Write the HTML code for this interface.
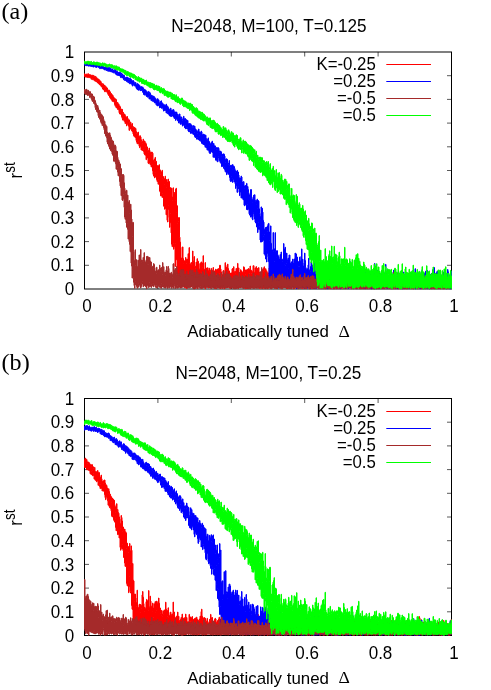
<!DOCTYPE html>
<html><head><meta charset="utf-8"><title>r_st vs Delta</title>
<style>
html,body{margin:0;padding:0;background:#fff}
svg{display:block}
text{font-family:"Liberation Sans",sans-serif;font-size:17.5px;fill:#000}
</style></head><body>
<svg style="will-change:transform" width="491" height="690" viewBox="0 0 491 690">
<rect width="491" height="690" fill="#fff"/>
<path d="M84.50 265.30h4.5M451.50 265.30h-4.5M84.50 241.60h4.5M451.50 241.60h-4.5M84.50 217.90h4.5M451.50 217.90h-4.5M84.50 194.20h4.5M451.50 194.20h-4.5M84.50 170.50h4.5M451.50 170.50h-4.5M84.50 146.80h4.5M451.50 146.80h-4.5M84.50 123.10h4.5M451.50 123.10h-4.5M84.50 99.40h4.5M451.50 99.40h-4.5M84.50 75.70h4.5M451.50 75.70h-4.5M157.90 289.00v-4.5M157.90 52.00v4.5M231.30 289.00v-4.5M231.30 52.00v4.5M304.70 289.00v-4.5M304.70 52.00v4.5M378.10 289.00v-4.5M378.10 52.00v4.5" fill="none" stroke="#000" stroke-width="0.65"/>
<rect x="84.50" y="52.00" width="367.00" height="237.00" fill="none" stroke="#000" stroke-width="1"/>
<path d="M84.5 73.8H85V74.4H85.5V74.7H86V74.4H86.5V74H87V74.2H87.5V74.2H88V73.7H88.5V74.6H89V74.5H89.5V75H90V75.1H90.5V74.8H91V75.3H91.5V75.8H92V75.2H92.5V75.4H93V76.4H93.5V75.4H94V76.6H94.5V76.4H95V77.4H95.5V76.4H96V77.7H96.5V77.6H97V78.9H97.5V78.7H98V79.7H98.5V79H99V80.1H99.5V80.9H100V80.9H100.5V81.2H101V82.7H101.5V83.3H102V83.6H102.5V84.4H103V83.9H103.5V85.1H104V86.3H104.5V85.1H105V87.5H105.5V86.5H106V87.1H106.5V87.9H107V88H107.5V89.8H108V90.1H108.5V90.2H109V90.2H109.5V91.3H110V92H110.5V93.2H111V93.6H111.5V94.1H112V95.3H112.5V95.1H113V96.8H113.5V97H114V98.5H114.5V98.3H115V100.4H115.5V98.9H116V99.7H116.5V101.9H117V103.3H117.5V102.5H118V104.8H118.5V103.9H119V107.7H119.5V105.8H120V106.9H120.5V108.7H121V109.2H121.5V110.6H122V109.4H122.5V113.4H123V112.4H123.5V113.6H124V116.1H124.5V114.1H125V115.6H125.5V116.7H126V117.2H126.5V117H127V116.5H127.5V118.1H128V119.6H128.5V120H129V119.9H129.5V122.2H130V122H130.5V122.3H131V124.7H131.5V125.4H132V123.5H132.5V127.2H133V126.7H133.5V127.5H134V128H134.5V127.4H135V129H135.5V128.5H136V131.6H136.5V133.4H137V133.3H137.5V132.8H138V132.1H138.5V135.7H139V136.2H139.5V136.2H140V135.8H140.5V136.9H141V139.7H141.5V141.3H142V141.3H142.5V143.5H143V139.2H143.5V140.6H144V142.8H144.5V141H145V146.3H145.5V142.8H146V144.2H146.5V147H147V146.9H147.5V150.3H148V150.3H148.5V152.6H149V148.1H149.5V150.4H150V152.5H150.5V152.3H151V154.4H151.5V152H152V152.3H152.5V153.2H153V159.9H153.5V160.7H154V161.2H154.5V159H155V157.4H155.5V161.5H156V161.3H156.5V165.1H157V165.6H157.5V168.8H158V165.8H158.5V168H159V164.7H159.5V169.6H160V170.1H160.5V174.7H161V171.8H161.5V172.6H162V170.3H162.5V178.5H163V176.6H163.5V179.8H164V178.7H164.5V184.6H165V176.2H165.5V179.9H166V187.5H166.5V179.5H167V182H167.5V187H168V179H168.5V181.4H169V181.5H169.5V189.3H170V190.6H170.5V187.6H171V195.9H171.5V188.3H172V200.3H172.5V196.9H173V187.8H173.5V193.7H174V193.7H174.5V192.5H175V200.5H175.5V189.2H176V188.3H176.5V212.6H177V205.8H177.5V223.7H178V221.7H178.5V217.6H179V217.6H179.5V237.2H180V242.1H180.5V247.2H181V257.9H181.5V263H182V259.7H182.5V246.9H183V258.6H183.5V263.9H184V260.8H184.5V267H185V260.5H185.5V257.5H186V259.4H186.5V263.2H187V259.1H187.5V261.1H188V253.7H188.5V260.9H189V247.6H189.5V263.2H190V264.7H190.5V263.9H191V262.4H191.5V264.4H192V269.8H192.5V251H193V260.9H193.5V262.8H194V256.6H194.5V266.6H195V266.2H195.5V268.5H196V262.1H196.5V264.8H197V258.7H197.5V261.2H198V261.2H198.5V263.6H199V269.2H199.5V269.1H200V263.3H200.5V263.2H201V261.9H201.5V272.8H202V267.8H202.5V262.8H203V255.7H203.5V276.1H204V269.3H204.5V269.3H205V262.6H205.5V270.2H206V271.1H206.5V268H207V271H207.5V267.7H208V270.4H208.5V270.9H209V268.2H209.5V271.9H210V270.4H210.5V271.7H211V268.4H211.5V274.2H212V270.4H212.5V270.4H213V267.5H213.5V270.5H214V270.9H214.5V275.5H215V273H215.5V269.2H216V274.6H216.5V270.1H217V269.2H217.5V273.4H218V268.7H218.5V268.7H219V273.7H219.5V265.3H220V265.3H220.5V268.9H221V271.9H221.5V275.7H222V275.1H222.5V274.5H223V270.6H223.5V270.4H224V273.4H224.5V273.5H225V262.7H225.5V265.3H226V274.5H226.5V267.4H227V271.7H227.5V264.1H228V268.5H228.5V270.5H229V271H229.5V274.1H230V273H230.5V276.5H231V273H231.5V273H232V268.9H232.5V268.5H233V271.2H233.5V266.7H234V271.6H234.5V272.8H235V271.4H235.5V273.6H236V268.4H236.5V273H237V273H237.5V263.4H238V276.9H238.5V267.9H239V273.5H239.5V272.8H240V272.8H240.5V269.7H241V276.9H241.5V270.9H242V275.4H242.5V272.4H243V276.7H243.5V266.8H244V267.4H244.5V271.6H245V274.5H245.5V269.9H246V274.1H246.5V270H247V269.3H247.5V273.1H248V274.3H248.5V268.5H249V269.4H249.5V273.2H250V266H250.5V269.7H251V273.4H251.5V270.6H252V272.8H252.5V271.7H253V265.7H253.5V265.7H254V276H254.5V272.2H255V267.9H255.5V275.2H256V266.6H256.5V269.2H257V268.8H257.5V268.4H258V269.5H258.5V267.6H259V273.2H259.5V272.3H260V273.4H260.5V275.5H261V275.5H261.5V269.2H262V269.5H262.5V273.6H263V271.6H263.5V268.2H264V266.8H264.5V270.4H265V273.5H265.5V268.7H266V271.2H266.5V270.8H267V273.6H267.5V272.7H268V272.9H268.5V274.4H269V268H269.5V275.4H270V269.5H270.5V269.5H271V270.7H271.5V266.9H272V271.3H272.5V273.7H273V270.2H273.5V270.8H274V273H274.5V273.2H275V275.5H275.5V268.7H276V268.7H276.5V273.8H277V272.9H277.5V270.6H278V266.1H278.5V268.4H279V272.5H279.5V271H280V276.7H280.5V271.9H281V274.4H281.5V270.9H282V273.7H282.5V273.2H283V273.8H283.5V273.8H284V277.7H284.5V267.6H285V275.5H285.5V273.7H286V274.4H286.5V272.4H287V275.1H287.5V276.2H288V276.7H288.5V274.1H289V277.7H289.5V271.3H290V275.2H290.5V276.2H291V276H291.5V274H292V273.6H292.5V271.7H293V271.7H293.5V274.3H294V276.1H294.5V280H295V272.8H295.5V277.4H296V274.9H296.5V276.8H297V276.1H297.5V276.5H298V271.3H298.5V276.1H299V272.8H299.5V276.7H300V274.7H300.5V275.6H301V275.1H301.5V271.5H302V276.8H302.5V269.3H303V280.1H303.5V276.3H304V277.9H304.5V275.9H305V274.9H305.5V276.9H306V275.8H306.5V274.7H307V277.7H307.5V277H308V276.7H308.5V278.9H309V273.1H309.5V275.8H310V277.8H310.5V274.7H311V274.2H311.5V276.8H312V277.7H312.5V276H313V275.8H313.5V276.7H314V275.4H314.5V273.1H315V273.4H315.5V279.7H316V278.5H316.5V276.7H317V276.5H317.5V275.1H318V275.9H318.5V277.5H319V278.4H319.5V275.2H320V278.8H320.5V280.3H321V277.1H321.5V276.9H322V273.1H322.5V272.8H323V276.1H323.5V278.5H324V278.3H324.5V276.9H325V276.4H325.5V278.4H326V275.8H326.5V279.7H327V278.5H327.5V278.6H328V274.1H328.5V279.1H329V279.4H329.5V279.6H330V273.2H330.5V276.6H331V279.9H331.5V276.3H332V275.7H332.5V275.4H333V276.8H333.5V277.3H334V277.8H334.5V278.3H335V274.3H335.5V279.2H336V276.9H336.5V276.4H337V278.9H337.5V278.4H338V277.5H338.5V276.7H339V273.3H339.5V276.7H340V273.7H340.5V273.7H341V276H341.5V277.3H342V280H342.5V278.4H343V276.4H343.5V276.5H344V277H344.5V279H345V274.3H345.5V279H346V280.1H346.5V279.4H347V277.4H347.5V271.2H348V278.7H348.5V278.9H349V279.7H349.5V278.8H350V277.4H350.5V277.7H351V277.6H351.5V278.8H352V279.3H352.5V277.2H353V278.7H353.5V279.2H354V272.8H354.5V278.5H355V278.1H355.5V280.7H356V276.6H356.5V280.9H357V274.6H357.5V273.7H358V278.6H358.5V277.6H359V275.9H359.5V276.4H360V276.4H360.5V278.5H361V279.9H361.5V277.3H362V277.8H362.5V279H363V278.9H363.5V278.5H364V278.8H364.5V276.9H365V279.5H365.5V278.1H366V276.3H366.5V276.8H367V277.5H367.5V278.2H368V277.5H368.5V277.5H369V276.6H369.5V273.1H370V275.4H370.5V277H371V279.4H371.5V279.8H372V279H372.5V277.1H373V276.8H373.5V280H374V273.9H374.5V280H375V279.3H375.5V279.4H376V280.2H376.5V275.2H377V280.8H377.5V277.8H378V280.6H378.5V281.4H379V282.1H379.5V274.8H380V279.9H380.5V278.6H381V276.9H381.5V277.6H382V280.5H382.5V278.6H383V279.8H383.5V274.5H384V279.4H384.5V274.4H385V277.1H385.5V281.5H386V278H386.5V277.9H387V277.1H387.5V278.6H388V279.9H388.5V276.8H389V279.5H389.5V278.5H390V279.7H390.5V275.8H391V274.5H391.5V274.6H392V276.3H392.5V279.6H393V279.2H393.5V278.3H394V275.6H394.5V277.2H395V279.9H395.5V279.5H396V276.3H396.5V274.1H397V281.8H397.5V273.3H398V277H398.5V278.6H399V276.9H399.5V275.5H400V276.6H400.5V274.1H401V278.6H401.5V276.7H402V276.5H402.5V275.4H403V278.4H403.5V278.8H404V279.1H404.5V278H405V280.4H405.5V275.4H406V277H406.5V277.9H407V275.2H407.5V275.8H408V277.4H408.5V275.6H409V277.5H409.5V275.8H410V281.2H410.5V277.9H411V277.9H411.5V276.6H412V280.9H412.5V277.8H413V279.9H413.5V278.6H414V278.5H414.5V277.8H415V281H415.5V278.7H416V277.3H416.5V277.3H417V282.2H417.5V278.7H418V274.3H418.5V276.8H419V277.5H419.5V278.1H420V277.4H420.5V278.8H421V276.4H421.5V278.1H422V277H422.5V278.5H423V277.6H423.5V278.1H424V278.8H424.5V278.6H425V281.8H425.5V278.6H426V279.7H426.5V275.5H427V277.5H427.5V281.4H428V279.5H428.5V279.3H429V277.6H429.5V278H430V277.8H430.5V280H431V280.1H431.5V277.6H432V277.9H432.5V280.3H433V279.6H433.5V279.8H434V276.2H434.5V276.2H435V279.7H435.5V281H436V279.2H436.5V279.1H437V278.4H437.5V276.6H438V278.2H438.5V281.7H439V279.8H439.5V278.9H440V278.9H440.5V278.3H441V275.3H441.5V279H442V281.1H442.5V275.1H443V274.9H443.5V280.2H444V275.7H444.5V279.1H445V280.2H445.5V277.4H446V274.4H446.5V278.3H447V278.2H447.5V277.1H448V277.3H448.5V278.7H449V277.1H449.5V277.1H450V275H450.5V278.8H451V279.6H451.5V288H451V286.8H450.5V287H450V288.1H449.5V287.3H449V287.6H448.5V287.1H448V287.5H447.5V286.7H447V285.9H446.5V287.4H446V288.4H445.5V287.5H445V287.9H444.5V288.1H444V288.2H443.5V288.7H443V286.7H442.5V287.6H442V288.2H441.5V287.1H441V287.7H440.5V288.7H440V288.2H439.5V288.4H439V288.4H438.5V287.8H438V288.3H437.5V287.5H437V288.4H436.5V287.3H436V288.1H435.5V288.4H435V288.2H434.5V287.7H434V286.9H433.5V287.2H433V288.2H432.5V287.5H432V285.9H431.5V286.3H431V288.5H430.5V288.3H430V288.7H429.5V286.8H429V288.2H428.5V288.1H428V288.1H427.5V287.1H427V288.1H426.5V285.4H426V288H425.5V287.6H425V287.7H424.5V287.8H424V287.8H423.5V287.4H423V287.9H422.5V287.9H422V288.6H421.5V287.8H421V288.5H420.5V287.3H420V288.1H419.5V287.3H419V287.4H418.5V286.5H418V287.2H417.5V287.4H417V287.5H416.5V287.2H416V287.2H415.5V287.9H415V287.7H414.5V287.7H414V287.8H413.5V288.8H413V287.5H412.5V287.6H412V288.3H411.5V288.3H411V287.7H410.5V286.7H410V287H409.5V287.8H409V288.2H408.5V287.8H408V288.3H407.5V286.2H407V286.7H406.5V287.7H406V286.8H405.5V288.3H405V287.6H404.5V288.7H404V287.7H403.5V288.1H403V288.1H402.5V288.5H402V288.5H401.5V287.8H401V286.5H400.5V288.4H400V287.5H399.5V288H399V286.6H398.5V286.9H398V288.5H397.5V287.8H397V288.1H396.5V287.6H396V288.5H395.5V288.5H395V286.5H394.5V285.8H394V287.8H393.5V288.3H393V286.7H392.5V288.6H392V288.6H391.5V288H391V287.8H390.5V288H390V287.9H389.5V288.2H389V286.9H388.5V287.6H388V287.5H387.5V287.9H387V287.7H386.5V288.1H386V287.9H385.5V287.3H385V286.8H384.5V288.6H384V287.5H383.5V287.7H383V288.3H382.5V288H382V287.2H381.5V287H381V287.5H380.5V288H380V287.7H379.5V288.1H379V287.6H378.5V287.7H378V287.1H377.5V288.3H377V288.8H376.5V288.4H376V288.1H375.5V287.3H375V288.7H374.5V287.6H374V288.6H373.5V287.9H373V288.3H372.5V287.1H372V287.6H371.5V286.5H371V287.9H370.5V288.4H370V287.4H369.5V288.2H369V287.7H368.5V287.5H368V286.1H367.5V287.5H367V288.2H366.5V287H366V288.1H365.5V288.8H365V288.6H364.5V287.4H364V288.5H363.5V287.1H363V287.8H362.5V288.5H362V287.2H361.5V288.6H361V287H360.5V287.4H360V288.5H359.5V287.7H359V286.7H358.5V287.2H358V287.2H357.5V286.2H357V288.6H356.5V286.6H356V287.9H355.5V288.1H355V288.1H354.5V287.3H354V287.3H353.5V286H353V286.4H352.5V287.1H352V286.8H351.5V286.8H351V287H350.5V287.7H350V287.5H349.5V287.4H349V287.8H348.5V288.4H348V287.8H347.5V286.9H347V286.8H346.5V288.5H346V286H345.5V287.4H345V287H344.5V288.3H344V288.2H343.5V288.1H343V287.1H342.5V287.9H342V287.6H341.5V287.7H341V288.2H340.5V287.5H340V288.2H339.5V287.7H339V287.9H338.5V287H338V287.4H337.5V288.3H337V285.9H336.5V288.7H336V287.1H335.5V287.3H335V287.6H334.5V288.8H334V287.9H333.5V286.7H333V287H332.5V286.8H332V287.5H331.5V287.2H331V287.5H330.5V288.6H330V286.5H329.5V287.1H329V288.5H328.5V288.3H328V286.9H327.5V288.1H327V288.4H326.5V288.6H326V288.6H325.5V287H325V286.5H324.5V288H324V286.8H323.5V288.2H323V286.6H322.5V288.3H322V287.8H321.5V288.1H321V288.6H320.5V286H320V287.4H319.5V288H319V287.8H318.5V287.3H318V287.6H317.5V287.7H317V287.8H316.5V287.4H316V288.6H315.5V287.3H315V288H314.5V286.1H314V285.9H313.5V288.4H313V288.4H312.5V287.9H312V288.3H311.5V288.3H311V288.4H310.5V287.9H310V288.7H309.5V288.6H309V288H308.5V286.5H308V287H307.5V287.9H307V288.5H306.5V286.6H306V287.5H305.5V285.7H305V288.6H304.5V288.5H304V287.6H303.5V287.9H303V288.3H302.5V288.4H302V287.6H301.5V286.3H301V285.8H300.5V287.4H300V285.1H299.5V287.7H299V288.5H298.5V287.3H298V285.9H297.5V288.2H297V285.1H296.5V288.1H296V286.9H295.5V288H295V286.7H294.5V286.5H294V288.8H293.5V285.9H293V286H292.5V287.1H292V286H291.5V288.5H291V286.4H290.5V287H290V287.9H289.5V285.9H289V286.4H288.5V285.7H288V288.6H287.5V288.1H287V288.5H286.5V286.2H286V287.2H285.5V287.6H285V287.2H284.5V287.6H284V286.8H283.5V285.5H283V287.5H282.5V286H282V287H281.5V285.8H281V287.1H280.5V287.4H280V287.6H279.5V287.3H279V285.6H278.5V285.6H278V287.5H277.5V288.3H277V284.6H276.5V288H276V287.2H275.5V288.2H275V287H274.5V287.8H274V287.4H273.5V287.4H273V285.7H272.5V287.4H272V287.5H271.5V286.9H271V287H270.5V286.9H270V285.2H269.5V287.6H269V288.2H268.5V285.8H268V287.5H267.5V287.2H267V284.4H266.5V287.3H266V288.6H265.5V288.6H265V287.6H264.5V286.7H264V288.1H263.5V288.1H263V287.3H262.5V286.4H262V287.1H261.5V286.7H261V287.5H260.5V288.3H260V288.3H259.5V288H259V287.3H258.5V284.9H258V285H257.5V285.9H257V287.6H256.5V286.4H256V287H255.5V287.2H255V286.9H254.5V287.2H254V287.6H253.5V287.3H253V286.4H252.5V287.8H252V285.4H251.5V287.9H251V287.5H250.5V287.4H250V286.4H249.5V286.6H249V285.6H248.5V286.9H248V288.4H247.5V285H247V285.8H246.5V287.8H246V288.7H245.5V285.7H245V286.3H244.5V284.8H244V286H243.5V286.7H243V287.1H242.5V286H242V286.4H241.5V286.7H241V285.9H240.5V287.7H240V285.9H239.5V287.5H239V286.4H238.5V288.1H238V286.3H237.5V287.4H237V288H236.5V287.9H236V287.4H235.5V286.1H235V286.3H234.5V285.7H234V286.8H233.5V287.8H233V286.2H232.5V285.6H232V288H231.5V285.9H231V288.2H230.5V285.5H230V287.8H229.5V287.9H229V287H228.5V285.7H228V287.6H227.5V287.4H227V287.5H226.5V285.5H226V287.2H225.5V286.2H225V286.8H224.5V288.7H224V286.4H223.5V287.1H223V288.1H222.5V285H222V287.8H221.5V284.4H221V288.4H220.5V284.8H220V288.1H219.5V286H219V287.8H218.5V287.5H218V287.2H217.5V286.9H217V286.7H216.5V284.4H216V286.9H215.5V288.4H215V287.2H214.5V288.1H214V287.6H213.5V285.1H213V285.5H212.5V287H212V286.9H211.5V286.9H211V286.9H210.5V287.8H210V287.5H209.5V287.5H209V287.6H208.5V288H208V286.5H207.5V285.4H207V285.4H206.5V284.9H206V285.4H205.5V288.7H205V285.3H204.5V287.6H204V286.9H203.5V286.8H203V285.9H202.5V286.8H202V288H201.5V284H201V285.5H200.5V285.6H200V283.8H199.5V285.3H199V284.5H198.5V284.8H198V288.5H197.5V284.7H197V284.3H196.5V284.7H196V288.2H195.5V287.9H195V288.3H194.5V287H194V285.2H193.5V284.7H193V282.9H192.5V285.5H192V284.7H191.5V286.8H191V285.2H190.5V284.3H190V287H189.5V286.1H189V285.2H188.5V284.6H188V284.7H187.5V287.7H187V288.4H186.5V284.9H186V287.7H185.5V287.7H185V287.7H184.5V287H184V283.7H183.5V284.3H183V283.6H182.5V286H182V283.9H181.5V285H181V287.7H180.5V285.1H180V285.1H179.5V286.2H179V282.5H178.5V274.4H178V273.6H177.5V281.1H177V259.7H176.5V259.7H176V243.5H175.5V266.5H175V246.8H174.5V246.1H174V249.2H173.5V243.3H173V236H172.5V246.7H172V244.2H171.5V232.9H171V222.8H170.5V213.6H170V227.3H169.5V217.5H169V205.4H168.5V209.6H168V222H167.5V220.3H167V210.8H166.5V214.8H166V203H165.5V208.5H165V209.2H164.5V206.2H164V206.2H163.5V195.1H163V193.8H162.5V197.5H162V194.9H161.5V195.9H161V195.9H160.5V192.2H160V191H159.5V179.9H159V179.5H158.5V184.3H158V181.3H157.5V181.5H157V179.6H156.5V175.9H156V176.9H155.5V172.2H155V177.9H154.5V172.7H154V176.1H153.5V174.4H153V170.8H152.5V164.4H152V166.9H151.5V166.8H151V162.2H150.5V164.6H150V163.2H149.5V160.9H149V163.6H148.5V163.2H148V158.1H147.5V156.9H147V154.9H146.5V159.7H146V154.7H145.5V155.2H145V154.7H144.5V153.9H144V151.6H143.5V149.3H143V150.6H142.5V150.2H142V150H141.5V149.9H141V146H140.5V146.3H140V147.7H139.5V146.2H139V143.9H138.5V141.7H138V143.7H137.5V143.7H137V142.1H136.5V140.5H136V137.3H135.5V137.6H135V135H134.5V136.5H134V135.7H133.5V134H133V131.9H132.5V131.2H132V130.8H131.5V129.5H131V128.5H130.5V129H130V127.5H129.5V130.4H129V126.3H128.5V124.9H128V124.2H127.5V123.5H127V125.9H126.5V123.2H126V123.3H125.5V123.6H125V120.6H124.5V121.3H124V119.2H123.5V120.1H123V120.1H122.5V118.3H122V116.7H121.5V114.9H121V114.2H120.5V112.2H120V113.9H119.5V112.7H119V109.8H118.5V109.3H118V109.4H117.5V108.3H117V107H116.5V107.8H116V105.6H115.5V106.2H115V104.5H114.5V102.4H114V100.9H113.5V101.4H113V100.9H112.5V101.3H112V99.8H111.5V99.6H111V98.5H110.5V98.2H110V97.2H109.5V95.8H109V95.4H108.5V94.8H108V93.4H107.5V92.6H107V91.7H106.5V91.2H106V90.4H105.5V91.7H105V91.7H104.5V89.7H104V90H103.5V89.1H103V89.1H102.5V87.6H102V86.1H101.5V86.6H101V85.5H100.5V83.4H100V84.8H99.5V84.2H99V83.7H98.5V83H98V83H97.5V81.3H97V82H96.5V80.5H96V81.2H95.5V81.2H95V80.8H94.5V80.3H94V79.8H93.5V79.7H93V79.7H92.5V78.5H92V79H91.5V79.2H91V77.9H90.5V77.4H90V77.2H89.5V77.7H89V77.6H88.5V77.1H88V77.2H87.5V77.4H87V76.8H86.5V77.1H86V77H85.5V77H85V76.5H84.5Z" fill="#ff0000" stroke="#ff0000" stroke-width="1" stroke-linejoin="miter" stroke-miterlimit="2"/>
<path d="M84.5 63.5H85V64.1H85.5V63.1H86V63.3H86.5V63.9H87V63.9H87.5V63.6H88V63.2H88.5V64.1H89V63.3H89.5V64H90V63.8H90.5V63.8H91V64.4H91.5V64H92V64.1H92.5V64.8H93V64H93.5V64.2H94V64.6H94.5V64.5H95V64.7H95.5V64.7H96V64.8H96.5V65.4H97V64.6H97.5V65H98V65.7H98.5V65.5H99V65.7H99.5V65.1H100V66.3H100.5V65.9H101V65.5H101.5V66.1H102V65.8H102.5V66.4H103V66.2H103.5V66.8H104V67H104.5V67.3H105V66.9H105.5V67.4H106V67.2H106.5V67.6H107V67.5H107.5V68H108V68.1H108.5V67.5H109V67.5H109.5V68.7H110V67.9H110.5V68.9H111V69H111.5V69.2H112V68.8H112.5V70.2H113V70.3H113.5V69.9H114V70.4H114.5V69.6H115V69.6H115.5V70H116V71.1H116.5V71.2H117V71.3H117.5V72.1H118V72.5H118.5V72.3H119V72.2H119.5V72.1H120V72.3H120.5V73.6H121V73H121.5V74.2H122V73.9H122.5V75.3H123V75H123.5V75.1H124V75.4H124.5V77.8H125V77.7H125.5V77.4H126V77H126.5V77.8H127V77.3H127.5V77.3H128V79.6H128.5V78.1H129V78.3H129.5V79.4H130V78.6H130.5V79H131V79.4H131.5V80.9H132V82H132.5V80.6H133V80.6H133.5V81.1H134V82.5H134.5V83.7H135V82.5H135.5V82.6H136V84.7H136.5V84.6H137V83.4H137.5V84.8H138V84.1H138.5V84.5H139V85.4H139.5V85.5H140V87H140.5V86.9H141V86.6H141.5V87H142V87.6H142.5V86.9H143V88.1H143.5V89.6H144V89.6H144.5V89.2H145V91.1H145.5V90H146V91.3H146.5V91.5H147V91.9H147.5V92.5H148V92.7H148.5V91.4H149V93.4H149.5V92.4H150V93.2H150.5V95.3H151V95.5H151.5V95H152V95.8H152.5V96.8H153V96.5H153.5V96H154V96.9H154.5V97.4H155V98.3H155.5V98.5H156V99.9H156.5V100.4H157V99.1H157.5V98.7H158V100H158.5V99.9H159V102.8H159.5V103.9H160V101.5H160.5V102.8H161V100.8H161.5V102.4H162V103.2H162.5V103.2H163V104.8H163.5V104.6H164V104.7H164.5V105.9H165V105.6H165.5V105.2H166V104.2H166.5V105.3H167V107.5H167.5V106.4H168V107.4H168.5V108.9H169V109.2H169.5V109.2H170V109.6H170.5V108.1H171V110.3H171.5V110.2H172V110H172.5V110.3H173V109.5H173.5V109.8H174V111.7H174.5V111.9H175V111.9H175.5V113.2H176V112H176.5V112.3H177V115.6H177.5V114.2H178V115.7H178.5V116.2H179V114H179.5V114H180V117.5H180.5V116.8H181V116.9H181.5V118.6H182V119.3H182.5V120.4H183V117.3H183.5V116.3H184V118.8H184.5V118.7H185V118.5H185.5V120.2H186V119.8H186.5V119.8H187V120.8H187.5V120.5H188V123.6H188.5V124.1H189V123.6H189.5V123.5H190V125.9H190.5V123.8H191V125.9H191.5V125H192V126.2H192.5V127.6H193V127.6H193.5V125.6H194V126.9H194.5V126.2H195V129H195.5V129H196V130.2H196.5V130.7H197V133.4H197.5V131.6H198V129.8H198.5V129H199V131.7H199.5V135.5H200V132.4H200.5V134.2H201V131.1H201.5V131.9H202V134.7H202.5V134.8H203V134H203.5V134.9H204V136.1H204.5V134.6H205V137.7H205.5V135.2H206V138.5H206.5V139.4H207V140.5H207.5V139.4H208V137.9H208.5V140.8H209V141.6H209.5V145.6H210V143.7H210.5V143.7H211V142.4H211.5V142.4H212V141.2H212.5V144.8H213V148.1H213.5V143.4H214V148.3H214.5V145.7H215V146H215.5V147.5H216V147.5H216.5V149.4H217V147.7H217.5V149.5H218V147.7H218.5V148.3H219V152.6H219.5V150.9H220V151.9H220.5V151.1H221V152.1H221.5V156.5H222V154.1H222.5V156H223V156.2H223.5V153.8H224V154.4H224.5V156.1H225V162.4H225.5V159.5H226V158.7H226.5V160H227V159.3H227.5V163.9H228V163.1H228.5V164.2H229V160.5H229.5V165.3H230V165.3H230.5V167.5H231V165.3H231.5V165.3H232V169.2H232.5V164.5H233V170H233.5V165.9H234V166.8H234.5V168.5H235V170.3H235.5V172.5H236V171.5H236.5V171.8H237V170.4H237.5V174.9H238V172H238.5V175H239V177.8H239.5V178.2H240V179.3H240.5V177.9H241V176.1H241.5V177H242V182H242.5V183.3H243V182.7H243.5V181.6H244V185.9H244.5V188.5H245V185.7H245.5V185.4H246V188.1H246.5V183.4H247V189.5H247.5V186.5H248V189.6H248.5V192.7H249V197.9H249.5V194.9H250V194.1H250.5V189.6H251V189.6H251.5V198.3H252V202.8H252.5V199.5H253V196.8H253.5V195.3H254V196.3H254.5V194.7H255V201.6H255.5V200.4H256V200.5H256.5V204.6H257V199.1H257.5V208.7H258V200.6H258.5V201.1H259V208.8H259.5V213.4H260V219.3H260.5V216.5H261V206.9H261.5V209H262V208.3H262.5V212.1H263V220.4H263.5V222.1H264V229.4H264.5V234.4H265V228.3H265.5V227.5H266V228.8H266.5V227H267V231.4H267.5V225.8H268V223.9H268.5V223.4H269V231.9H269.5V240.5H270V235.9H270.5V225.9H271V243.3H271.5V249.8H272V251H272.5V249.8H273V232.5H273.5V251.6H274V261.4H274.5V248.7H275V232.7H275.5V251.2H276V257.9H276.5V250.7H277V250.7H277.5V254.6H278V255.8H278.5V256.7H279V263H279.5V259H280V254.6H280.5V257.9H281V252H281.5V258.5H282V261.7H282.5V259.6H283V259.8H283.5V243.6H284V264.9H284.5V249H285V247.3H285.5V265.2H286V263.7H286.5V253.1H287V259.7H287.5V261.9H288V258H288.5V268.9H289V255H289.5V255.1H290V263.2H290.5V263H291V263.4H291.5V261.8H292V264.1H292.5V259.1H293V270.5H293.5V262.9H294V258.9H294.5V262.9H295V253.1H295.5V258.6H296V253.9H296.5V267.1H297V257.1H297.5V265.6H298V261.6H298.5V266.5H299V266.7H299.5V257.1H300V260.8H300.5V261.9H301V256.2H301.5V248.9H302V262.6H302.5V259.2H303V271.1H303.5V265.9H304V262.9H304.5V253.1H305V260.4H305.5V267.4H306V268.7H306.5V269.7H307V270.1H307.5V268.5H308V264.9H308.5V258.3H309V269.8H309.5V270.3H310V271.2H310.5V266.4H311V261.9H311.5V264.6H312V267.5H312.5V265.1H313V265H313.5V266.2H314V270.4H314.5V262.2H315V261.6H315.5V271.5H316V268.8H316.5V276.4H317V267H317.5V266.9H318V271.4H318.5V265.7H319V272.1H319.5V268.9H320V271H320.5V270.7H321V270.7H321.5V272.6H322V265.7H322.5V269.5H323V272.4H323.5V263.4H324V270.8H324.5V276.5H325V268H325.5V272.7H326V273H326.5V269.3H327V272.6H327.5V273.7H328V273.7H328.5V268.3H329V268.3H329.5V272.9H330V274.4H330.5V274.4H331V271.9H331.5V273.7H332V275.2H332.5V274.8H333V276.1H333.5V277.8H334V270H334.5V273.7H335V276.7H335.5V273.4H336V271.2H336.5V267.2H337V273.9H337.5V273.9H338V279H338.5V274.2H339V275.9H339.5V275.9H340V274H340.5V269H341V275.6H341.5V276.4H342V273.6H342.5V272.4H343V267.6H343.5V271.5H344V275.9H344.5V270.7H345V272.2H345.5V273.9H346V271.4H346.5V275.3H347V276H347.5V274.7H348V270.8H348.5V273.8H349V274.4H349.5V266.5H350V261.8H350.5V274.1H351V274.6H351.5V274.6H352V273.3H352.5V274.8H353V269.1H353.5V277.8H354V272H354.5V274.3H355V274H355.5V269.3H356V270.1H356.5V274.1H357V274.8H357.5V269.3H358V275.6H358.5V268.1H359V269H359.5V269H360V270H360.5V268H361V273H361.5V270.4H362V271.6H362.5V272H363V275.7H363.5V270.9H364V272.8H364.5V276.2H365V271.6H365.5V270.7H366V276.2H366.5V277.8H367V274.3H367.5V273.7H368V274.2H368.5V272.9H369V272.7H369.5V276.9H370V273H370.5V275.4H371V273.8H371.5V273.6H372V274.9H372.5V272.8H373V278.2H373.5V277.8H374V274.4H374.5V263.5H375V273.1H375.5V269H376V277H376.5V272.9H377V270.1H377.5V273.5H378V277.6H378.5V277.6H379V271.7H379.5V275.5H380V274.2H380.5V274.3H381V277.3H381.5V270.9H382V273.4H382.5V274.8H383V273.4H383.5V276.2H384V272.9H384.5V275.7H385V272.4H385.5V264.4H386V276.8H386.5V273.1H387V277H387.5V278.5H388V275.2H388.5V277.4H389V277.6H389.5V278.3H390V277.1H390.5V275.7H391V274.6H391.5V277.9H392V276.9H392.5V278.1H393V272H393.5V270.1H394V277.2H394.5V271.9H395V274.9H395.5V275.8H396V277.6H396.5V274.4H397V275.3H397.5V277.9H398V271.8H398.5V273.6H399V273.5H399.5V275.3H400V276.3H400.5V274.8H401V277.5H401.5V277.5H402V270.8H402.5V276.4H403V273.8H403.5V272.1H404V275.6H404.5V276.1H405V274H405.5V278.7H406V276.8H406.5V274.7H407V278.8H407.5V278.3H408V276.3H408.5V273.9H409V275.8H409.5V273.8H410V275.9H410.5V273H411V272.5H411.5V276.4H412V276.4H412.5V277.4H413V275.6H413.5V275H414V278.6H414.5V276.3H415V268.7H415.5V275.1H416V273.3H416.5V273.1H417V274.5H417.5V275.1H418V273.5H418.5V276.6H419V275.6H419.5V275.9H420V275.9H420.5V276.3H421V272.2H421.5V272.8H422V269.6H422.5V273.2H423V273.2H423.5V273.3H424V273.3H424.5V277.6H425V274.6H425.5V271.2H426V275.2H426.5V275.7H427V270.5H427.5V277.3H428V276.9H428.5V277.7H429V274.9H429.5V277.9H430V278.5H430.5V274.3H431V275.9H431.5V273.3H432V274.9H432.5V269.8H433V276.2H433.5V274.1H434V267.6H434.5V273.3H435V275.5H435.5V276.1H436V272.7H436.5V278.1H437V271.1H437.5V279.8H438V277.9H438.5V280.2H439V274.1H439.5V274.2H440V275.5H440.5V274.4H441V275.7H441.5V275.8H442V278.7H442.5V274H443V272.2H443.5V272.2H444V277.2H444.5V273.4H445V277.5H445.5V273.3H446V276.1H446.5V275.5H447V276.8H447.5V269.5H448V271.8H448.5V273.6H449V275.6H449.5V275.5H450V275.1H450.5V276.4H451V271.3H451.5V286.6H451V286.8H450.5V288.8H450V288.8H449.5V288H449V287.1H448.5V288.3H448V286.1H447.5V288H447V286.7H446.5V288.8H446V287H445.5V287.3H445V287.8H444.5V286.7H444V287.9H443.5V288.3H443V285.2H442.5V287.7H442V286.9H441.5V286.9H441V287.9H440.5V287.5H440V288H439.5V287H439V288H438.5V287.7H438V287.2H437.5V288H437V286.9H436.5V288.2H436V287.6H435.5V287.4H435V287H434.5V287.5H434V287.9H433.5V287.9H433V286.3H432.5V287.6H432V288.3H431.5V286.4H431V285.7H430.5V288.4H430V288.8H429.5V288.6H429V288H428.5V288.2H428V288.2H427.5V287.4H427V288.5H426.5V285.8H426V287.6H425.5V287.7H425V286.7H424.5V288.5H424V288.6H423.5V287.4H423V287.8H422.5V286.9H422V285.7H421.5V285.8H421V287.4H420.5V288.7H420V287.9H419.5V286.3H419V287.5H418.5V287.1H418V286.3H417.5V286.9H417V287H416.5V286.8H416V288.8H415.5V288.2H415V287.7H414.5V288.1H414V286.3H413.5V287.4H413V286.9H412.5V286.9H412V287.5H411.5V287.5H411V287.5H410.5V287.9H410V288.4H409.5V288.4H409V287.4H408.5V288.5H408V287.6H407.5V287H407V286.6H406.5V288H406V287.1H405.5V287.7H405V288.1H404.5V288.2H404V286.9H403.5V288.4H403V287.8H402.5V288.7H402V285.2H401.5V288H401V285.7H400.5V288.3H400V288.3H399.5V286.7H399V286.2H398.5V285.4H398V288.6H397.5V287.9H397V287.9H396.5V287.7H396V287.9H395.5V288.2H395V287.7H394.5V287.5H394V286.8H393.5V287.2H393V287H392.5V287.3H392V288.4H391.5V285.1H391V287.9H390.5V286.6H390V287.6H389.5V287.1H389V287.9H388.5V287.8H388V284.9H387.5V288.3H387V287.9H386.5V287.2H386V286.4H385.5V287.4H385V288H384.5V288H384V286.6H383.5V287.2H383V285.9H382.5V287.9H382V288.1H381.5V287.6H381V288.1H380.5V288H380V288.4H379.5V286.7H379V288.5H378.5V287.5H378V287.6H377.5V287.5H377V287H376.5V288.3H376V285.9H375.5V287.5H375V286.9H374.5V288.8H374V287.1H373.5V286.9H373V286.7H372.5V286.2H372V288.6H371.5V288.8H371V287.5H370.5V286.1H370V285.4H369.5V287.9H369V286.8H368.5V287.4H368V285.2H367.5V286.8H367V285.7H366.5V287.7H366V287.7H365.5V288H365V288H364.5V288H364V286H363.5V287.7H363V287.8H362.5V286.9H362V288H361.5V287.7H361V287.7H360.5V287.2H360V287.5H359.5V286H359V287H358.5V286.8H358V287.9H357.5V288H357V287.6H356.5V288.6H356V286.7H355.5V285.9H355V286.8H354.5V286.8H354V286.7H353.5V286.7H353V288.3H352.5V287.6H352V287.6H351.5V287.1H351V286.9H350.5V287.7H350V287.3H349.5V287.4H349V288.3H348.5V288.1H348V285.8H347.5V288H347V285.1H346.5V287H346V287.8H345.5V288.4H345V288.4H344.5V287.3H344V287.2H343.5V287H343V285.1H342.5V286.9H342V285.9H341.5V287.2H341V287H340.5V288.8H340V285.9H339.5V286.1H339V285.6H338.5V287.6H338V287.8H337.5V287.8H337V287.1H336.5V287.9H336V286.4H335.5V286.2H335V288H334.5V287H334V285.4H333.5V286.7H333V286.5H332.5V287.4H332V287.4H331.5V286.5H331V287.6H330.5V287.1H330V285.8H329.5V285.5H329V288.5H328.5V285.7H328V288.1H327.5V288.7H327V288.4H326.5V288.4H326V287.1H325.5V285.9H325V287H324.5V286.2H324V281.4H323.5V286.3H323V283.6H322.5V288.4H322V286.8H321.5V287.4H321V287.4H320.5V287.1H320V284.2H319.5V287.2H319V287.7H318.5V283.7H318V284.5H317.5V284.5H317V287.1H316.5V288.2H316V286.7H315.5V284.2H315V288.4H314.5V287H314V288.3H313.5V287.9H313V287.8H312.5V285.3H312V285H311.5V284.6H311V283.1H310.5V288.7H310V286.2H309.5V285.2H309V284.6H308.5V285.8H308V285.7H307.5V288.1H307V287.4H306.5V285.7H306V284.2H305.5V287.5H305V282.5H304.5V288.4H304V286.5H303.5V286.9H303V281.7H302.5V287.5H302V284.3H301.5V287H301V286.8H300.5V287.8H300V286.8H299.5V284.5H299V286.6H298.5V287.9H298V283.4H297.5V283.9H297V288.7H296.5V283.1H296V286.5H295.5V285.4H295V284.7H294.5V284.4H294V285.4H293.5V287.1H293V284.1H292.5V286H292V287.7H291.5V284.9H291V283.1H290.5V287.7H290V287.3H289.5V286.4H289V287.2H288.5V286.8H288V284.2H287.5V284.5H287V286.3H286.5V286.2H286V285H285.5V285.9H285V284.9H284.5V284.5H284V284.4H283.5V286.7H283V286.5H282.5V283.1H282V282H281.5V284H281V286.8H280.5V285.3H280V284.6H279.5V285H279V287.8H278.5V287.8H278V281.8H277.5V285.7H277V284.7H276.5V287.9H276V286.6H275.5V279.8H275V285.6H274.5V284.5H274V286.2H273.5V281.5H273V275.1H272.5V284.9H272V285.1H271.5V283.7H271V280.8H270.5V271.9H270V270.1H269.5V279.1H269V261.7H268.5V256.8H268V250.9H267.5V253.6H267V262H266.5V250.2H266V259H265.5V255.7H265V252.2H264.5V254.2H264V240.5H263.5V236.3H263V234.4H262.5V241.5H262V230H261.5V242.1H261V242.1H260.5V240H260V229.7H259.5V226.3H259V222.6H258.5V229.4H258V232.5H257.5V226.3H257V227H256.5V221.1H256V223H255.5V222.1H255V219.1H254.5V216.7H254V213.7H253.5V212.7H253V219.8H252.5V218.7H252V214.1H251.5V216.5H251V217.1H250.5V215.1H250V215.1H249.5V213.8H249V208.4H248.5V209.3H248V204.6H247.5V209.9H247V209.5H246.5V205.1H246V198H245.5V204.7H245V205.8H244.5V205.2H244V199.5H243.5V199.9H243V198.4H242.5V196.9H242V197.3H241.5V198.1H241V191.9H240.5V192H240V195.6H239.5V192.2H239V186.5H238.5V188.7H238V187.7H237.5V192.4H237V185.8H236.5V182.5H236V188.4H235.5V183.7H235V178.9H234.5V182H234V179.4H233.5V179.4H233V182.4H232.5V178.2H232V176.5H231.5V181.3H231V181.6H230.5V180.7H230V177.5H229.5V174.5H229V172.9H228.5V174.3H228V172.2H227.5V172.7H227V174.7H226.5V172.6H226V171.4H225.5V171.6H225V169.5H224.5V167.6H224V168.3H223.5V166.3H223V166.3H222.5V166.5H222V166.6H221.5V163.9H221V161.2H220.5V162.5H220V160.9H219.5V160.6H219V156.5H218.5V157.9H218V161.9H217.5V161.5H217V160.2H216.5V160.2H216V160.2H215.5V156.7H215V157.3H214.5V157.2H214V154.4H213.5V157.3H213V152.1H212.5V152.5H212V151.8H211.5V151H211V151.9H210.5V153.5H210V153.3H209.5V152.6H209V150H208.5V150.2H208V149.6H207.5V150.1H207V147.9H206.5V146.8H206V144.1H205.5V147.3H205V145.2H204.5V144H204V144.5H203.5V144.5H203V141H202.5V143.8H202V143.2H201.5V142H201V140.9H200.5V140.3H200V140.7H199.5V138.1H199V139.8H198.5V138H198V137.8H197.5V139.2H197V139.2H196.5V137.6H196V137.4H195.5V137.5H195V136.4H194.5V132.6H194V132.9H193.5V134.6H193V133H192.5V133.3H192V131.4H191.5V133.2H191V133.4H190.5V130.6H190V130.5H189.5V131.9H189V131.6H188.5V130.9H188V128.9H187.5V127.7H187V128.6H186.5V127.8H186V128.8H185.5V125.8H185V127.7H184.5V125.7H184V122.9H183.5V124.9H183V126.1H182.5V125.2H182V122.7H181.5V123.5H181V124.3H180.5V124H180V122.3H179.5V121.1H179V123H178.5V121.1H178V120.8H177.5V119.7H177V118.2H176.5V118.9H176V120.4H175.5V118.6H175V118.1H174.5V118.4H174V117H173.5V115.9H173V116H172.5V114.3H172V116.5H171.5V115.6H171V116.3H170.5V115.9H170V115.9H169.5V115.3H169V114.1H168.5V114H168V113.7H167.5V112.8H167V112.9H166.5V112.9H166V110.6H165.5V110.2H165V110.5H164.5V110.3H164V111.1H163.5V109.7H163V107.8H162.5V108H162V108.3H161.5V106.4H161V107.4H160.5V107.4H160V107.9H159.5V105.8H159V105.8H158.5V105.5H158V105.2H157.5V106H157V104.6H156.5V104.9H156V103H155.5V102.9H155V102.9H154.5V102.3H154V101.3H153.5V101.4H153V101.3H152.5V100.6H152V100.3H151.5V100.7H151V98.9H150.5V98.9H150V96.8H149.5V99.1H149V96.7H148.5V97.1H148V97.2H147.5V96.2H147V96.5H146.5V96.1H146V94.5H145.5V93.7H145V95.1H144.5V94.6H144V94.5H143.5V93H143V91.9H142.5V90.6H142V90.4H141.5V90.5H141V89.6H140.5V90.7H140V89.5H139.5V89.1H139V90.3H138.5V88.5H138V89.7H137.5V89.4H137V88.7H136.5V88.2H136V86.1H135.5V86.2H135V86H134.5V85.5H134V84.2H133.5V84.6H133V86.1H132.5V85.5H132V84.2H131.5V83.4H131V83.4H130.5V83.8H130V83.8H129.5V82.3H129V81.7H128.5V82.8H128V82H127.5V81.5H127V81.6H126.5V79.9H126V80.6H125.5V80.4H125V80.4H124.5V79.6H124V79.7H123.5V77.9H123V77.9H122.5V77.9H122V77.6H121.5V77.6H121V77.6H120.5V76H120V75.3H119.5V76H119V75.3H118.5V75.5H118V75.4H117.5V73.8H117V74.9H116.5V74.8H116V73.9H115.5V73.4H115V72.8H114.5V72.8H114V72.8H113.5V72.8H113V72.2H112.5V72H112V71.8H111.5V71.9H111V71.7H110.5V71.2H110V71.3H109.5V71H109V70.5H108.5V71.3H108V70.8H107.5V70.8H107V69.8H106.5V70.5H106V69.7H105.5V69.7H105V70H104.5V69.3H104V69.1H103.5V69H103V68.5H102.5V68.6H102V68.6H101.5V68.2H101V68.5H100.5V68.6H100V68.6H99.5V67.5H99V67.6H98.5V67.1H98V66.6H97.5V66.7H97V67.4H96.5V67.3H96V66.9H95.5V67.1H95V66.6H94.5V66.4H94V66.7H93.5V67.1H93V66.6H92.5V65.8H92V66.2H91.5V66.4H91V65.7H90.5V66.2H90V66H89.5V65.8H89V66.1H88.5V66.1H88V65.7H87.5V65.5H87V65.8H86.5V65.5H86V65.5H85.5V65.6H85V65.1H84.5Z" fill="#0000ff" stroke="#0000ff" stroke-width="1" stroke-linejoin="miter" stroke-miterlimit="2"/>
<path d="M84.5 89.5H85V89.8H85.5V90.4H86V89.4H86.5V89.3H87V90.5H87.5V91.4H88V90.3H88.5V90.9H89V91.7H89.5V92.9H90V91.7H90.5V93.2H91V93.8H91.5V95H92V94H92.5V97.3H93V96.1H93.5V97.8H94V96.9H94.5V99.8H95V100.8H95.5V102.7H96V104.3H96.5V105.1H97V105.8H97.5V105.6H98V107.8H98.5V110.6H99V111.7H99.5V110.1H100V112.4H100.5V113.4H101V115H101.5V114.6H102V115.4H102.5V117.7H103V116.8H103.5V119.5H104V122.7H104.5V121.4H105V124.7H105.5V124.7H106V126.2H106.5V126.3H107V132.1H107.5V133.3H108V133.6H108.5V133.1H109V133.7H109.5V132.8H110V135.2H110.5V136.7H111V137.6H111.5V139.5H112V140.5H112.5V143.1H113V141.2H113.5V143.6H114V149.2H114.5V145.5H115V145.2H115.5V146.3H116V151.1H116.5V151H117V151.4H117.5V157.3H118V159.9H118.5V160.2H119V162H119.5V163.9H120V163.9H120.5V170.7H121V168.7H121.5V176.6H122V174.6H122.5V182.1H123V174.5H123.5V175.3H124V182.8H124.5V188.2H125V193.4H125.5V191.4H126V190.3H126.5V190.3H127V200.3H127.5V195.1H128V206.1H128.5V202.2H129V200.5H129.5V213.7H130V210.6H130.5V204.2H131V210H131.5V219H132V236.4H132.5V222.4H133V222.4H133.5V251.5H134V260.4H134.5V261H135V249.8H135.5V265.2H136V259.8H136.5V259.8H137V266.7H137.5V266.3H138V260.2H138.5V260.9H139V254.9H139.5V258.9H140V260.8H140.5V249.5H141V259.9H141.5V262.9H142V260.3H142.5V261.3H143V257.4H143.5V261.3H144V252.7H144.5V260.8H145V262.1H145.5V263H146V259.8H146.5V256.5H147V264.8H147.5V256.3H148V264.3H148.5V257.2H149V257.6H149.5V257.5H150V261.1H150.5V265.9H151V262H151.5V266.2H152V266.2H152.5V266.7H153V268.7H153.5V263.6H154V264.6H154.5V267.6H155V271.2H155.5V271.1H156V273.4H156.5V267.2H157V273.1H157.5V270.7H158V269.8H158.5V271.1H159V269.5H159.5V265.1H160V271.3H160.5V268.2H161V271.6H161.5V267.4H162V274.2H162.5V262.6H163V271.7H163.5V266.7H164V271.9H164.5V272.7H165V275.6H165.5V272H166V269.8H166.5V266.5H167V271.1H167.5V271.1H168V266.4H168.5V268.4H169V273H169.5V276.1H170V273.5H170.5V274.7H171V272.3H171.5V273.2H172V277.6H172.5V274.5H173V263.9H173.5V263.7H174V270H174.5V270.9H175V268.5H175.5V274.1H176V274.7H176.5V266.6H177V272.4H177.5V273.4H178V275.4H178.5V275.4H179V273.4H179.5V275.8H180V270.2H180.5V276.1H181V269.8H181.5V269.7H182V271.8H182.5V269.8H183V269.6H183.5V270.6H184V274.7H184.5V277.5H185V274H185.5V276.6H186V279.1H186.5V271.2H187V278.9H187.5V274.7H188V274.7H188.5V276.7H189V274.7H189.5V270.9H190V269.8H190.5V273.7H191V270.6H191.5V275.6H192V275.6H192.5V269.9H193V272.7H193.5V275.9H194V277.5H194.5V272H195V274.7H195.5V277.4H196V276.4H196.5V269.2H197V277.4H197.5V272.1H198V274.5H198.5V276.8H199V274.3H199.5V274H200V278H200.5V273.6H201V274.5H201.5V274.5H202V276H202.5V271.6H203V272.7H203.5V276.1H204V275.1H204.5V276.5H205V276.5H205.5V270.3H206V273.5H206.5V275.6H207V274H207.5V279.4H208V277H208.5V276.1H209V277.2H209.5V278.6H210V274.3H210.5V278.5H211V280.1H211.5V269.7H212V275.8H212.5V274.8H213V271.6H213.5V276.5H214V278.5H214.5V272H215V276.1H215.5V280.1H216V275.1H216.5V276.2H217V275.3H217.5V273.5H218V277.6H218.5V274.9H219V277.2H219.5V279.2H220V275.7H220.5V273.1H221V277.8H221.5V279H222V279.1H222.5V275.3H223V271.3H223.5V271.3H224V277.1H224.5V279H225V278.6H225.5V274H226V274.8H226.5V270.9H227V277.2H227.5V273.8H228V273.9H228.5V278.5H229V274.2H229.5V276.4H230V278.6H230.5V276.4H231V279.1H231.5V278.2H232V278.2H232.5V278.2H233V278.2H233.5V276H234V279.4H234.5V277.5H235V275.1H235.5V278.6H236V275.7H236.5V278.7H237V275.8H237.5V280.5H238V277H238.5V277.3H239V272.4H239.5V277.7H240V276.6H240.5V279.8H241V279.4H241.5V279.3H242V275.4H242.5V277.7H243V276.5H243.5V277.2H244V280.1H244.5V277.8H245V276.9H245.5V276.2H246V276H246.5V276.9H247V277.9H247.5V277.4H248V278.7H248.5V274.4H249V278H249.5V278.6H250V276.9H250.5V276.1H251V277.1H251.5V277.4H252V276.6H252.5V276.8H253V273.2H253.5V273.2H254V276.4H254.5V279.6H255V278.7H255.5V277.3H256V275.4H256.5V275.4H257V279.2H257.5V275.5H258V276.1H258.5V275.9H259V275.9H259.5V279.9H260V271.7H260.5V276.4H261V278H261.5V267.6H262V279.3H262.5V278.8H263V278.1H263.5V278.7H264V278.2H264.5V276.5H265V276H265.5V272.5H266V277.2H266.5V279.6H267V278.7H267.5V279.9H268V277.7H268.5V276.3H269V278.2H269.5V278.9H270V278.7H270.5V277.6H271V276H271.5V277.2H272V281.7H272.5V280.5H273V274H273.5V276.1H274V279.5H274.5V280H275V278H275.5V278.4H276V277.9H276.5V280.4H277V279.1H277.5V276.1H278V275.4H278.5V280.2H279V274.3H279.5V280.7H280V277.8H280.5V275.2H281V278.4H281.5V277.6H282V273.9H282.5V276.5H283V277.4H283.5V278.3H284V278.7H284.5V279.1H285V276.2H285.5V278.7H286V280H286.5V281H287V277.1H287.5V276.9H288V279.1H288.5V278.9H289V280.5H289.5V279.6H290V279.9H290.5V277.2H291V274.2H291.5V277.9H292V277.4H292.5V269.3H293V278.3H293.5V276.3H294V277.9H294.5V279.5H295V279H295.5V278.7H296V277H296.5V280.1H297V278.8H297.5V277.6H298V277.8H298.5V277.9H299V276.3H299.5V275.9H300V274.8H300.5V276.8H301V278.1H301.5V280.2H302V277.4H302.5V279.4H303V279.8H303.5V279.6H304V275.4H304.5V273.5H305V280.8H305.5V277.7H306V277.7H306.5V279.5H307V277H307.5V278.6H308V275.5H308.5V277.1H309V278.8H309.5V277.9H310V278.3H310.5V276.6H311V276.2H311.5V276.7H312V277.1H312.5V275.6H313V279.8H313.5V276.2H314V278.9H314.5V279.6H315V279H315.5V281.4H316V279.9H316.5V277.3H317V277.3H317.5V277.3H318V278.1H318.5V278.3H319V279H319.5V279.6H320V279.9H320.5V278.6H321V276.7H321.5V279.2H322V278.7H322.5V279.6H323V279.3H323.5V279.8H324V278.5H324.5V279.2H325V278.4H325.5V276.5H326V278.1H326.5V277.8H327V277.5H327.5V280.4H328V277.3H328.5V279.7H329V278.3H329.5V276.7H330V281.1H330.5V277.8H331V275.9H331.5V278.2H332V279.5H332.5V279.7H333V280.7H333.5V280.7H334V279.6H334.5V278H335V281.3H335.5V276.4H336V279.5H336.5V278.4H337V277.7H337.5V274.4H338V276.8H338.5V274.7H339V280H339.5V282.4H340V280H340.5V275.6H341V276.2H341.5V276.6H342V277.9H342.5V281.1H343V280.2H343.5V277.6H344V278.2H344.5V279.8H345V276.9H345.5V274.7H346V277.7H346.5V277.7H347V277.8H347.5V276.7H348V276.8H348.5V279.4H349V276.8H349.5V281.2H350V277.7H350.5V278.3H351V277.9H351.5V278.3H352V280.6H352.5V279H353V277.7H353.5V278.5H354V276.7H354.5V276.7H355V280.6H355.5V280.3H356V278.2H356.5V280.3H357V279.8H357.5V276.6H358V278.8H358.5V280.5H359V278.6H359.5V279.6H360V277.5H360.5V278.6H361V278.1H361.5V280.3H362V273.1H362.5V277.9H363V275.3H363.5V279.2H364V275.5H364.5V275.5H365V279.8H365.5V278.4H366V277.9H366.5V279.1H367V278.9H367.5V278.7H368V275.9H368.5V278.3H369V280.6H369.5V276.8H370V278.3H370.5V275.5H371V281.9H371.5V278.7H372V276.8H372.5V281.7H373V278.7H373.5V277.6H374V281.9H374.5V278.4H375V280.1H375.5V278.3H376V275.7H376.5V272.4H377V280.3H377.5V275.1H378V272H378.5V279.1H379V278.6H379.5V279.4H380V278.7H380.5V279H381V281.3H381.5V280.3H382V280.2H382.5V277.7H383V280.4H383.5V280.2H384V277.2H384.5V280.2H385V277.1H385.5V279.7H386V279H386.5V277.5H387V280.1H387.5V277.6H388V279.8H388.5V280.6H389V275.3H389.5V277.6H390V280.7H390.5V281H391V279.2H391.5V280.5H392V279.5H392.5V279.6H393V280H393.5V272.3H394V279.1H394.5V277.7H395V278.9H395.5V281H396V278.9H396.5V279.7H397V279.8H397.5V277.8H398V280.2H398.5V280.1H399V279.7H399.5V276.2H400V279.2H400.5V279.2H401V280.7H401.5V279.9H402V277.1H402.5V273H403V276.9H403.5V281.5H404V282H404.5V279.4H405V277.4H405.5V279.5H406V279.6H406.5V280.7H407V280.3H407.5V279.4H408V279H408.5V273.4H409V281.1H409.5V278.6H410V280.2H410.5V279.4H411V278.5H411.5V277.4H412V281.7H412.5V274.5H413V278.5H413.5V278.7H414V280.8H414.5V278.4H415V280.3H415.5V282.1H416V279.1H416.5V278.1H417V279.2H417.5V280.3H418V279.7H418.5V277.9H419V279.1H419.5V279.1H420V278.3H420.5V278H421V277H421.5V280.1H422V274.9H422.5V279H423V278.8H423.5V276.7H424V276.7H424.5V276.7H425V277.7H425.5V279.3H426V280.6H426.5V280.2H427V280.2H427.5V280.4H428V276.4H428.5V279.5H429V278.8H429.5V281.3H430V277.8H430.5V277.7H431V278.8H431.5V280H432V278.6H432.5V279.5H433V276.7H433.5V274.1H434V274.1H434.5V276.4H435V279.6H435.5V277.1H436V281.5H436.5V278.3H437V280.1H437.5V279.9H438V277.6H438.5V280.1H439V278H439.5V279.7H440V280.3H440.5V278.8H441V280.6H441.5V282.3H442V277.1H442.5V279.8H443V280.8H443.5V281.1H444V279.3H444.5V277.7H445V279.3H445.5V280.7H446V281.1H446.5V278.8H447V278H447.5V279H448V279.9H448.5V278.4H449V279.5H449.5V282.2H450V279.4H450.5V276H451V278.7H451.5V286.7H451V287.5H450.5V287.1H450V288.3H449.5V287.3H449V287H448.5V288.6H448V287.8H447.5V288.4H447V287.6H446.5V288.8H446V286.7H445.5V287.4H445V288.1H444.5V288.4H444V285.6H443.5V288.6H443V287.7H442.5V288.2H442V288.4H441.5V287.7H441V287.8H440.5V288.1H440V286.5H439.5V287.6H439V288.3H438.5V287.9H438V288.4H437.5V287.9H437V287.8H436.5V288.2H436V286.6H435.5V288.2H435V288.8H434.5V287.4H434V288.3H433.5V288.5H433V287.9H432.5V287.8H432V288.4H431.5V288.8H431V287.6H430.5V288.2H430V288.2H429.5V287.7H429V286.2H428.5V288.2H428V288.1H427.5V287.5H427V288H426.5V287.2H426V288.1H425.5V288.1H425V287.2H424.5V288.5H424V287.5H423.5V287.9H423V287.9H422.5V288.4H422V288.4H421.5V288.2H421V287.1H420.5V288.1H420V287.6H419.5V287.6H419V287.6H418.5V287.5H418V288.7H417.5V287H417V287.7H416.5V287.3H416V288.1H415.5V287.6H415V286.5H414.5V287.2H414V288.6H413.5V288.6H413V288H412.5V287H412V287.5H411.5V288.2H411V286.5H410.5V288.3H410V287.9H409.5V288.3H409V287.1H408.5V288H408V288H407.5V288.7H407V288H406.5V288.8H406V288.4H405.5V288.5H405V288.4H404.5V287.2H404V287.9H403.5V288.6H403V288.6H402.5V288.6H402V288.2H401.5V288.3H401V288.4H400.5V288.3H400V288.3H399.5V286.9H399V288.8H398.5V286.7H398V288H397.5V287.4H397V288.1H396.5V287.1H396V287H395.5V288.7H395V286.5H394.5V287.9H394V288.1H393.5V288.5H393V288.5H392.5V288.2H392V287.6H391.5V288.7H391V286.7H390.5V286.7H390V288.1H389.5V288.3H389V287.6H388.5V287.6H388V288.2H387.5V287.3H387V287.4H386.5V287.3H386V286.2H385.5V287.6H385V288.4H384.5V287.8H384V286.9H383.5V288.5H383V287.8H382.5V288.4H382V286.6H381.5V288.4H381V288.2H380.5V288.1H380V288.5H379.5V287.9H379V287.4H378.5V288.6H378V287.7H377.5V288.1H377V288.2H376.5V287.3H376V287.9H375.5V288.1H375V288.3H374.5V286.9H374V287.6H373.5V288.6H373V288.5H372.5V288.5H372V287.6H371.5V287.3H371V287.3H370.5V288.4H370V287.7H369.5V286.9H369V287.9H368.5V286.5H368V288.7H367.5V287.9H367V288H366.5V288.2H366V286.5H365.5V287.9H365V286.6H364.5V286.8H364V287.7H363.5V288.7H363V288.4H362.5V286.1H362V288.4H361.5V286.9H361V287.8H360.5V288.8H360V288.8H359.5V288H359V288H358.5V287.7H358V288.2H357.5V288.7H357V288.7H356.5V288.5H356V287.4H355.5V288.1H355V286.6H354.5V288H354V286.9H353.5V288.8H353V288.2H352.5V287.6H352V288.5H351.5V288.8H351V287H350.5V287.5H350V288H349.5V287H349V287.6H348.5V287.6H348V287.2H347.5V287.5H347V288.3H346.5V287.7H346V286.7H345.5V288H345V288.6H344.5V288.2H344V287.9H343.5V288.2H343V287.6H342.5V287.4H342V288.4H341.5V287.5H341V288.2H340.5V287.2H340V288.6H339.5V287.3H339V287.3H338.5V288.3H338V287.9H337.5V287.2H337V287.9H336.5V286.7H336V286.3H335.5V288.2H335V288.2H334.5V287.1H334V288.6H333.5V288.8H333V286.7H332.5V286.7H332V286.7H331.5V288.4H331V288.2H330.5V287.8H330V288H329.5V288.2H329V288.7H328.5V287.9H328V287.4H327.5V287H327V288.5H326.5V288.1H326V288.2H325.5V288.8H325V288.3H324.5V287.7H324V288.2H323.5V285.9H323V288.4H322.5V287.8H322V288.1H321.5V286.9H321V287.7H320.5V288.2H320V288.6H319.5V286.9H319V288.4H318.5V287.5H318V287.7H317.5V287.2H317V287.9H316.5V287.2H316V287.9H315.5V287.4H315V288.3H314.5V286.9H314V286H313.5V288.5H313V287.2H312.5V287.5H312V287.1H311.5V287.1H311V288.3H310.5V286.8H310V286.9H309.5V288.6H309V287.5H308.5V287.6H308V287.2H307.5V286.9H307V286.8H306.5V287.9H306V288.5H305.5V287.2H305V288.1H304.5V288.4H304V287.5H303.5V287.1H303V287.4H302.5V286.3H302V288.3H301.5V287.7H301V287.7H300.5V288.3H300V288H299.5V288.1H299V288.8H298.5V287.5H298V286.5H297.5V287.8H297V288H296.5V287H296V287.3H295.5V287.7H295V288H294.5V288.4H294V286.8H293.5V287.8H293V286.2H292.5V287.2H292V288.8H291.5V287.8H291V287.6H290.5V288.6H290V286.8H289.5V288.6H289V286.2H288.5V288.3H288V287.2H287.5V287.6H287V288.5H286.5V288.4H286V287H285.5V287.6H285V287.1H284.5V287.4H284V287.5H283.5V287.9H283V287.3H282.5V288.8H282V288.8H281.5V286.9H281V288.3H280.5V288H280V287.9H279.5V288.1H279V287.4H278.5V287H278V286.9H277.5V288.7H277V288H276.5V288.6H276V287.6H275.5V287.7H275V288.2H274.5V287.9H274V287.6H273.5V287.1H273V287.8H272.5V288.1H272V285.8H271.5V288.8H271V288.1H270.5V288.6H270V287.4H269.5V287.1H269V287.2H268.5V287H268V288.5H267.5V288.7H267V287.8H266.5V287.9H266V288.5H265.5V287.5H265V288.2H264.5V288H264V285.8H263.5V286.1H263V287.8H262.5V288.7H262V287.7H261.5V288.2H261V287.2H260.5V287.1H260V287.9H259.5V287.8H259V286.6H258.5V288.3H258V288.3H257.5V287.2H257V287.9H256.5V288.2H256V287.9H255.5V287.9H255V287.6H254.5V288.4H254V287.7H253.5V288.4H253V286.7H252.5V288H252V287.8H251.5V287.4H251V286.2H250.5V288.8H250V286.7H249.5V288.5H249V288.5H248.5V288.4H248V288.2H247.5V287.9H247V287.6H246.5V288.4H246V287.5H245.5V287.5H245V286.7H244.5V288.4H244V288.4H243.5V288.3H243V288H242.5V287.5H242V287.2H241.5V287.4H241V286.2H240.5V287.4H240V287.3H239.5V286.7H239V287.7H238.5V288.6H238V287.9H237.5V287.9H237V288.4H236.5V286.4H236V287.8H235.5V288.8H235V288.8H234.5V286.2H234V287.9H233.5V288.6H233V287.6H232.5V287.3H232V287.1H231.5V287.4H231V288.1H230.5V287.3H230V287.9H229.5V287.7H229V287.2H228.5V286.7H228V286.9H227.5V287.4H227V287.8H226.5V287.6H226V288.1H225.5V287.8H225V288.1H224.5V287.7H224V287.7H223.5V286.3H223V285.7H222.5V288.4H222V286.5H221.5V286H221V288.2H220.5V286.4H220V288.1H219.5V287.2H219V287.6H218.5V287.4H218V288.1H217.5V285.9H217V287.6H216.5V288.7H216V287.6H215.5V286.1H215V288.1H214.5V288.1H214V287.9H213.5V286.2H213V287.6H212.5V287.2H212V287.6H211.5V288.5H211V287.9H210.5V287.7H210V287.3H209.5V287.6H209V285.9H208.5V287H208V286.7H207.5V287.6H207V287.6H206.5V287.7H206V287.2H205.5V288H205V286.2H204.5V286.1H204V287.5H203.5V287.3H203V288.2H202.5V287.5H202V288.5H201.5V285.6H201V286.4H200.5V288.3H200V287.8H199.5V287.4H199V287.3H198.5V286.1H198V286.3H197.5V288.4H197V287.6H196.5V287.2H196V286.9H195.5V286.8H195V288.8H194.5V288.8H194V288H193.5V288.8H193V286.8H192.5V287.5H192V286.4H191.5V286.2H191V286.9H190.5V287.5H190V287.7H189.5V287.8H189V287.8H188.5V287H188V287.6H187.5V288.1H187V287.5H186.5V286.5H186V286.8H185.5V286.5H185V286.1H184.5V287H184V287.1H183.5V286.7H183V286.7H182.5V287.3H182V285.9H181.5V287.9H181V287.8H180.5V287.8H180V287.1H179.5V286.9H179V287.7H178.5V287.7H178V285.3H177.5V288.2H177V287.9H176.5V287.1H176V287.1H175.5V288.5H175V285.8H174.5V284.4H174V288.2H173.5V287.1H173V284.9H172.5V287.3H172V288.3H171.5V287.6H171V283.9H170.5V286.7H170V287.6H169.5V287.9H169V287.4H168.5V286.3H168V288.3H167.5V287.8H167V286.7H166.5V286.5H166V288.1H165.5V287.7H165V286.3H164.5V287.9H164V284.1H163.5V287.1H163V285.2H162.5V287H162V283.3H161.5V288.2H161V287.8H160.5V285.2H160V285.8H159.5V287.3H159V285.9H158.5V285.2H158V286.8H157.5V287.9H157V287.9H156.5V285.6H156V287.3H155.5V285.2H155V285.2H154.5V284.7H154V286.9H153.5V283.4H153V282.9H152.5V286.1H152V284.7H151.5V287.5H151V286.2H150.5V286.3H150V282.6H149.5V286.8H149V287.6H148.5V286.4H148V284.9H147.5V285.4H147V288.7H146.5V287.1H146V286.8H145.5V285.9H145V285.7H144.5V285.7H144V284H143.5V286.8H143V284.1H142.5V281.3H142V283.3H141.5V286.7H141V288H140.5V286H140V285H139.5V283.9H139V287.2H138.5V283.7H138V286.5H137.5V288.2H137V286.5H136.5V282H136V284.8H135.5V281.4H135V288.2H134.5V285.6H134V282.3H133.5V277.2H133V269.6H132.5V278.1H132V266H131.5V263.1H131V251.8H130.5V251.6H130V244.4H129.5V241.7H129V237.9H128.5V239.1H128V229.3H127.5V223.3H127V227.2H126.5V223H126V217.3H125.5V219.3H125V217.1H124.5V207.3H124V198.8H123.5V194.6H123V200.5H122.5V200H122V195.2H121.5V195.7H121V187.5H120.5V185.9H120V181.6H119.5V174.2H119V175.8H118.5V175.8H118V172.1H117.5V167.6H117V169.2H116.5V169.2H116V163.8H115.5V162.3H115V159.6H114.5V161.2H114V161.2H113.5V154.9H113V155.2H112.5V154.1H112V151.6H111.5V150.7H111V150.7H110.5V147.9H110V149H109.5V147.1H109V145.8H108.5V143.1H108V143.9H107.5V142.2H107V137.8H106.5V136.6H106V135.9H105.5V132.1H105V133.6H104.5V129.8H104V127.8H103.5V123.4H103V124.6H102.5V125.6H102V121.7H101.5V123.3H101V121.7H100.5V119.4H100V119.1H99.5V117.8H99V117.4H98.5V115.6H98V112H97.5V112.2H97V111.6H96.5V109.8H96V109.5H95.5V107.6H95V104.3H94.5V103.7H94V103.3H93.5V101.5H93V101.5H92.5V101.2H92V99.5H91.5V98.7H91V97.2H90.5V95.8H90V97.4H89.5V95.8H89V94.4H88.5V95.2H88V95.6H87.5V94H87V94.6H86.5V94.5H86V94.5H85.5V93.7H85V93.6H84.5Z" fill="#a52a2a" stroke="#a52a2a" stroke-width="1" stroke-linejoin="miter" stroke-miterlimit="2"/>
<path d="M84.5 61.1H85V61.9H85.5V61.9H86V61.8H86.5V62H87V61.4H87.5V61.3H88V61.6H88.5V61.2H89V62H89.5V61.7H90V61.8H90.5V62.3H91V61.4H91.5V62.4H92V62.5H92.5V62.5H93V62.2H93.5V61.8H94V61.9H94.5V62.5H95V62.5H95.5V62.5H96V62H96.5V62.5H97V62H97.5V62.5H98V62.6H98.5V63H99V63.6H99.5V62.8H100V63.1H100.5V63.9H101V64.5H101.5V63.6H102V64.2H102.5V62.8H103V63.4H103.5V63.4H104V63.3H104.5V63.2H105V64H105.5V63.9H106V64.4H106.5V64.2H107V64.8H107.5V65.2H108V64.8H108.5V64.6H109V64H109.5V64.2H110V64.7H110.5V65.3H111V64.6H111.5V65.4H112V64.9H112.5V65.1H113V66.3H113.5V66H114V66.4H114.5V65.7H115V66.1H115.5V66.3H116V65.9H116.5V66H117V67.3H117.5V66.9H118V67H118.5V67H119V67.1H119.5V68.1H120V68.5H120.5V68.9H121V69H121.5V68.9H122V69.7H122.5V68.9H123V69.6H123.5V69.8H124V70H124.5V71.2H125V70.8H125.5V70.4H126V71.8H126.5V71.8H127V71.4H127.5V71.6H128V71.8H128.5V72.5H129V73H129.5V72.7H130V73H130.5V73H131V73H131.5V74.8H132V73.8H132.5V74.9H133V74H133.5V74.7H134V74.6H134.5V75H135V75.7H135.5V76H136V76.5H136.5V77.3H137V77.9H137.5V77.6H138V76.5H138.5V77.4H139V78H139.5V77.6H140V78.2H140.5V78.7H141V78.1H141.5V79.2H142V79.3H142.5V79H143V79.3H143.5V79.6H144V80.3H144.5V81.1H145V80.6H145.5V80.7H146V80H146.5V81.9H147V82.1H147.5V81.9H148V82.3H148.5V82.2H149V82.6H149.5V83.4H150V82.6H150.5V83.3H151V83H151.5V84.3H152V83.7H152.5V83.4H153V84.1H153.5V86.1H154V84.1H154.5V85.4H155V85.8H155.5V85.8H156V86H156.5V85.1H157V86.3H157.5V86.5H158V85.9H158.5V87.3H159V86.5H159.5V86.6H160V88.5H160.5V88.5H161V87.5H161.5V88.7H162V89H162.5V88.8H163V88.4H163.5V89.7H164V88.9H164.5V92.3H165V90.6H165.5V91.4H166V91.1H166.5V92.1H167V91.7H167.5V91.1H168V91.9H168.5V93.5H169V92H169.5V93.3H170V92.6H170.5V92.1H171V94.2H171.5V93.3H172V93.3H172.5V94H173V94.5H173.5V94.6H174V95.1H174.5V94.6H175V95.9H175.5V96.5H176V94.8H176.5V96.1H177V98.1H177.5V97.2H178V96.8H178.5V98.2H179V98.4H179.5V98.7H180V99.8H180.5V99.3H181V98.4H181.5V98H182V98.1H182.5V99.6H183V100.8H183.5V100.2H184V101H184.5V101H185V101H185.5V101.5H186V102.4H186.5V102.2H187V103.4H187.5V103.3H188V103.1H188.5V103H189V103.5H189.5V103.3H190V103.1H190.5V104.7H191V104H191.5V104.7H192V104.5H192.5V107.8H193V106.5H193.5V106.8H194V108H194.5V107.9H195V108.9H195.5V108.3H196V107.7H196.5V108.4H197V108.6H197.5V109.6H198V111.1H198.5V113.6H199V111.4H199.5V111.2H200V112.1H200.5V112.1H201V113.4H201.5V112.3H202V112.3H202.5V113H203V113.9H203.5V115.8H204V114.3H204.5V115.4H205V115.8H205.5V117.4H206V117.2H206.5V117.1H207V116.9H207.5V118.2H208V118.8H208.5V118H209V118.8H209.5V117.9H210V117.9H210.5V121.1H211V121.7H211.5V120.6H212V122.1H212.5V120.4H213V120.1H213.5V121.5H214V120.7H214.5V121.7H215V122.3H215.5V124H216V123.8H216.5V124.1H217V123.3H217.5V124.9H218V124.5H218.5V126.9H219V125.6H219.5V125.6H220V127.7H220.5V127.3H221V128.3H221.5V129.6H222V129.5H222.5V129.5H223V126.5H223.5V126.8H224V129.8H224.5V128.4H225V129.2H225.5V127.8H226V131.3H226.5V129.9H227V131.2H227.5V134.7H228V132.5H228.5V129.8H229V131.5H229.5V134.4H230V134H230.5V133.7H231V131.7H231.5V131.7H232V134H232.5V132.9H233V133.1H233.5V136.1H234V137.6H234.5V135.4H235V135.8H235.5V135.8H236V134.7H236.5V137.3H237V135.5H237.5V140.6H238V140.4H238.5V139.2H239V139.9H239.5V139.3H240V137.7H240.5V137.8H241V141.3H241.5V142.3H242V142.2H242.5V141.7H243V139.9H243.5V141H244V141.3H244.5V142.8H245V141.2H245.5V145H246V142.1H246.5V145.8H247V143.8H247.5V144.6H248V149H248.5V144.8H249V145.9H249.5V146H250V145.4H250.5V148.9H251V146H251.5V149.9H252V147.4H252.5V150.1H253V148.8H253.5V153.2H254V153.2H254.5V149.7H255V154.3H255.5V152.9H256V151.3H256.5V157.2H257V156.9H257.5V155.2H258V157.5H258.5V159.2H259V157.1H259.5V161.6H260V157.1H260.5V157.7H261V159.6H261.5V157.6H262V157.7H262.5V162.2H263V162.1H263.5V160.5H264V160.9H264.5V162.2H265V162.2H265.5V163.8H266V165.7H266.5V161.5H267V163.2H267.5V164.4H268V161.5H268.5V164.5H269V167.4H269.5V169.4H270V163.6H270.5V170.6H271V172.9H271.5V170H272V168.5H272.5V168.5H273V166.3H273.5V170.2H274V172.7H274.5V170.7H275V175.3H275.5V175.4H276V169.5H276.5V172.5H277V177.7H277.5V177.1H278V173H278.5V175H279V172.5H279.5V175.9H280V179.7H280.5V178.1H281V174.3H281.5V175.4H282V181.1H282.5V180.1H283V182.1H283.5V184.1H284V180.3H284.5V179H285V179.3H285.5V179.3H286V189.5H286.5V181.4H287V188.2H287.5V185.5H288V189.6H288.5V183.9H289V183.9H289.5V188H290V196.5H290.5V198.7H291V195H291.5V188.4H292V196.1H292.5V198.6H293V194.9H293.5V205.1H294V195.5H294.5V200.6H295V202.7H295.5V203.7H296V194.6H296.5V202.3H297V196.3H297.5V207H298V206.6H298.5V204.9H299V202.7H299.5V204.1H300V210.3H300.5V208.3H301V208H301.5V209.1H302V209.1H302.5V205.4H303V208.9H303.5V211.3H304V213.9H304.5V212.2H305V210.8H305.5V217.2H306V215.2H306.5V223.1H307V228.6H307.5V220.8H308V230.2H308.5V218.3H309V223.7H309.5V229.6H310V226.3H310.5V229.8H311V229.8H311.5V222.9H312V223.3H312.5V232.5H313V231.6H313.5V228.9H314V228.8H314.5V228H315V235.9H315.5V233.2H316V233.2H316.5V243.1H317V245.1H317.5V246.4H318V245.4H318.5V241.4H319V235.6H319.5V261.4H320V257.2H320.5V250.1H321V261.3H321.5V260.4H322V260.4H322.5V263.1H323V260.2H323.5V259.3H324V261.6H324.5V261.6H325V248.7H325.5V256.1H326V256.7H326.5V261.9H327V262.3H327.5V260.7H328V268.9H328.5V255.8H329V254.1H329.5V250.8H330V263.1H330.5V256.3H331V266H331.5V246H332V263.9H332.5V257.4H333V258.5H333.5V256.7H334V246.3H334.5V254.5H335V256.2H335.5V254H336V264.6H336.5V255H337V267.8H337.5V261.6H338V258H338.5V256.7H339V252.2H339.5V255.8H340V264.5H340.5V264.1H341V258.8H341.5V265.2H342V262.1H342.5V259H343V258.8H343.5V261H344V263.5H344.5V247.3H345V259.7H345.5V265.3H346V258.9H346.5V259.4H347V259.8H347.5V266.9H348V263.2H348.5V264.2H349V267.9H349.5V258.8H350V262H350.5V267.8H351V266.1H351.5V262.3H352V259.4H352.5V268.4H353V269.1H353.5V266.2H354V260.2H354.5V261.1H355V259.4H355.5V257.8H356V254.7H356.5V259.9H357V268.6H357.5V253.7H358V264.7H358.5V258.3H359V261.3H359.5V261.3H360V264.8H360.5V266.7H361V266H361.5V267.4H362V266.5H362.5V268.3H363V272.1H363.5V262H364V264.3H364.5V265.2H365V268.9H365.5V272.4H366V267.3H366.5V268H367V269.6H367.5V269.6H368V269.5H368.5V268.8H369V270.4H369.5V272.7H370V274.6H370.5V270.6H371V265.5H371.5V269.5H372V269.5H372.5V270.5H373V274.5H373.5V268H374V264.2H374.5V273.7H375V268.9H375.5V265.9H376V272.5H376.5V263.7H377V271H377.5V276.7H378V267H378.5V267H379V273.2H379.5V271.2H380V272.9H380.5V273.6H381V274.2H381.5V270.2H382V265.5H382.5V269.3H383V271.9H383.5V263.6H384V273.9H384.5V273.1H385V270.5H385.5V266.7H386V271.2H386.5V273.4H387V269.5H387.5V268.8H388V274.5H388.5V269.5H389V269.5H389.5V273.1H390V270.3H390.5V270.3H391V269.3H391.5V274.4H392V273.8H392.5V274.9H393V273.9H393.5V274.3H394V275.6H394.5V268.3H395V268.3H395.5V269.1H396V273.3H396.5V272H397V274.4H397.5V276.2H398V264.4H398.5V274.1H399V273.8H399.5V273.1H400V271.5H400.5V272.6H401V270.4H401.5V272.8H402V263.8H402.5V274.1H403V273.9H403.5V273.6H404V274.7H404.5V274.9H405V269H405.5V267H406V272H406.5V276.9H407V275.1H407.5V272.6H408V273.6H408.5V273.5H409V269.3H409.5V272.3H410V271.9H410.5V276.6H411V273.4H411.5V271.5H412V270.7H412.5V271.3H413V265.2H413.5V272.2H414V273.8H414.5V272H415V272.7H415.5V274.7H416V272.9H416.5V272.9H417V269.4H417.5V271H418V277H418.5V272.4H419V276.2H419.5V271.3H420V276.6H420.5V273.7H421V272.7H421.5V270.8H422V266.7H422.5V275.4H423V271.9H423.5V271.9H424V278H424.5V278H425V276.5H425.5V275.6H426V276.2H426.5V265.8H427V273H427.5V273.9H428V271.7H428.5V275.1H429V270.9H429.5V274.3H430V275.1H430.5V275.5H431V273.9H431.5V273.7H432V274.3H432.5V270.6H433V267H433.5V274.3H434V274.9H434.5V273.7H435V273.5H435.5V275.5H436V273.9H436.5V278H437V274.1H437.5V275.3H438V269.9H438.5V271.9H439V274H439.5V270.2H440V270H440.5V275H441V274.9H441.5V276.6H442V270.6H442.5V272.2H443V275.6H443.5V275.2H444V268.9H444.5V272.1H445V273.3H445.5V266.8H446V278H446.5V273H447V277H447.5V278.4H448V273.1H448.5V273.5H449V275.9H449.5V275.4H450V276.5H450.5V270.4H451V275.9H451.5V288.6H451V286.7H450.5V287.7H450V286.2H449.5V288.2H449V288.2H448.5V287.3H448V287.7H447.5V287H447V288.3H446.5V288.3H446V288.3H445.5V287.5H445V287.5H444.5V284.3H444V287.5H443.5V287.8H443V286H442.5V285.4H442V288.5H441.5V285.5H441V287.5H440.5V284.9H440V287.7H439.5V287.3H439V286H438.5V287.4H438V287.3H437.5V288H437V288.7H436.5V287.6H436V288.1H435.5V285.2H435V287.4H434.5V286.2H434V286.4H433.5V286.7H433V287H432.5V287H432V285.9H431.5V286.9H431V287.1H430.5V287.4H430V285.5H429.5V288.6H429V288.2H428.5V287.5H428V286H427.5V286.7H427V288.2H426.5V287.5H426V287.5H425.5V286.6H425V287.6H424.5V287.7H424V288.6H423.5V288.6H423V287.9H422.5V287.4H422V287.3H421.5V287.1H421V287.4H420.5V284H420V287.5H419.5V286.7H419V286.3H418.5V286.4H418V288.1H417.5V286.4H417V286.5H416.5V288.4H416V286.6H415.5V285.6H415V287.3H414.5V288.3H414V287.8H413.5V286.9H413V288.1H412.5V286.8H412V285.5H411.5V287.7H411V288.5H410.5V287.3H410V284H409.5V286.4H409V288.1H408.5V286.2H408V286.9H407.5V287.1H407V287.5H406.5V287.9H406V286H405.5V286H405V287.5H404.5V286.8H404V286.8H403.5V287.2H403V286H402.5V284.8H402V288.6H401.5V288.5H401V286.6H400.5V288.4H400V288.4H399.5V287.8H399V284.7H398.5V287.6H398V287.4H397.5V286.8H397V286.9H396.5V287.7H396V285.9H395.5V285.3H395V284.6H394.5V287.3H394V285.8H393.5V285.2H393V287.4H392.5V288.5H392V288H391.5V288.2H391V287H390.5V287.2H390V287.1H389.5V287.7H389V285.4H388.5V287.6H388V286.7H387.5V284.7H387V286.7H386.5V286.7H386V286.9H385.5V286.2H385V287.3H384.5V287.1H384V286.4H383.5V286.2H383V286.8H382.5V286.8H382V286H381.5V288H381V288.4H380.5V287.7H380V285.9H379.5V286.9H379V284.2H378.5V287.5H378V287.8H377.5V288H377V287.2H376.5V287.7H376V288.4H375.5V288.7H375V288.2H374.5V287.2H374V285.1H373.5V287.8H373V286.3H372.5V286.1H372V285.9H371.5V285.7H371V286.9H370.5V284.1H370V287.2H369.5V286.1H369V287.3H368.5V286.9H368V286.8H367.5V286.8H367V285.8H366.5V285.5H366V285H365.5V282.7H365V287.1H364.5V282.8H364V285.7H363.5V285.7H363V287.1H362.5V286.6H362V286.8H361.5V285.9H361V284.9H360.5V284.7H360V286.4H359.5V284.9H359V287.3H358.5V285.3H358V285.6H357.5V287.3H357V285.5H356.5V286.6H356V286.8H355.5V287.3H355V288.1H354.5V284H354V287.9H353.5V283.9H353V288.3H352.5V285.1H352V284.3H351.5V285.8H351V286.3H350.5V286H350V284.5H349.5V286.2H349V286.3H348.5V286.1H348V283.7H347.5V283.8H347V287.7H346.5V287.1H346V286.1H345.5V285.8H345V286.5H344.5V288H344V287.8H343.5V286.2H343V286.4H342.5V286.8H342V286.5H341.5V285.2H341V287.1H340.5V286.2H340V284H339.5V285H339V287.4H338.5V287.1H338V285.5H337.5V286.1H337V284.1H336.5V285.7H336V285H335.5V286H335V283H334.5V286.9H334V286H333.5V282.1H333V282H332.5V287.4H332V285.1H331.5V287.7H331V284.3H330.5V285.9H330V285.9H329.5V279.7H329V285.8H328.5V284.2H328V285.7H327.5V284.2H327V281.2H326.5V282H326V284.7H325.5V287H325V284.4H324.5V284.3H324V285.5H323.5V284.6H323V288.2H322.5V287.6H322V287.9H321.5V281.9H321V284.5H320.5V288.2H320V282.9H319.5V278.9H319V284.6H318.5V282.4H318V286.1H317.5V282.2H317V277.9H316.5V274H316V270.2H315.5V270.4H315V262.7H314.5V260.2H314V271.8H313.5V267.4H313V260.2H312.5V259.9H312V252.4H311.5V262.8H311V258.1H310.5V259.5H310V259.5H309.5V256.4H309V248.8H308.5V250H308V242.6H307.5V249.2H307V244.9H306.5V244.5H306V240.7H305.5V238H305V233.1H304.5V234.8H304V237.2H303.5V235.8H303V225.5H302.5V231.4H302V229.7H301.5V226.7H301V227.6H300.5V225.5H300V221.4H299.5V224.2H299V222.5H298.5V227.4H298V223H297.5V220H297V225.5H296.5V219.9H296V217.2H295.5V222.7H295V221.2H294.5V221.2H294V219.5H293.5V215.9H293V217.6H292.5V214.2H292V208.1H291.5V209.2H291V212.3H290.5V213.1H290V207.6H289.5V207.5H289V202.8H288.5V204.5H288V203H287.5V200.9H287V198.3H286.5V204.7H286V199.3H285.5V196.6H285V199.3H284.5V198.3H284V198.3H283.5V194H283V194.9H282.5V192.7H282V193.9H281.5V189.2H281V194H280.5V194H280V190H279.5V189.7H279V189.8H278.5V191.4H278V189.8H277.5V192.6H277V187.9H276.5V184.4H276V185.2H275.5V190.5H275V189.3H274.5V182.2H274V179H273.5V181.6H273V187.5H272.5V181.1H272V181.7H271.5V183.5H271V184.9H270.5V184.3H270V184.3H269.5V181.2H269V182.8H268.5V180.2H268V180.2H267.5V180.6H267V177.8H266.5V177.7H266V176.2H265.5V176.2H265V175.3H264.5V175.3H264V174.3H263.5V174.5H263V175.9H262.5V172.1H262V172.1H261.5V169.9H261V172.4H260.5V172.4H260V171.7H259.5V171.4H259V171.4H258.5V170H258V169.9H257.5V168.9H257V168.9H256.5V167.3H256V165H255.5V167.3H255V162.4H254.5V161.3H254V165.6H253.5V161.9H253V161.7H252.5V158.4H252V161H251.5V158.7H251V158.4H250.5V159.5H250V160.1H249.5V160.4H249V154.6H248.5V157.1H248V155.9H247.5V154.7H247V153.9H246.5V151.2H246V153.3H245.5V153.7H245V149.9H244.5V152H244V153.2H243.5V153.1H243V149.2H242.5V147.6H242V152.9H241.5V149.8H241V147.4H240.5V149.4H240V148.9H239.5V147.2H239V149.8H238.5V148.9H238V148.1H237.5V147H237V145.7H236.5V144.6H236V144.6H235.5V144.1H235V147.1H234.5V143.6H234V145.8H233.5V144.9H233V143.1H232.5V143.1H232V141H231.5V140.1H231V141.5H230.5V141.6H230V140.4H229.5V141.8H229V140.1H228.5V141.5H228V141.5H227.5V141H227V139.7H226.5V136.5H226V139.2H225.5V137H225V135.1H224.5V137.5H224V136.3H223.5V136.9H223V137.5H222.5V135.1H222V135H221.5V135.3H221V135.6H220.5V133H220V134.1H219.5V133.2H219V134.3H218.5V133.9H218V130.4H217.5V131.5H217V128.8H216.5V132H216V131.9H215.5V131.6H215V129.7H214.5V128.8H214V128.6H213.5V125.2H213V127.7H212.5V128.7H212V127.8H211.5V128H211V125.8H210.5V127.4H210V123.1H209.5V124.1H209V125.7H208.5V123.8H208V122.9H207.5V125H207V123.9H206.5V122.6H206V120.7H205.5V120.7H205V120.8H204.5V120.8H204V120.9H203.5V120.9H203V119.5H202.5V120.1H202V118.7H201.5V119.6H201V119.6H200.5V117.1H200V117H199.5V118.4H199V117.7H198.5V117.8H198V117H197.5V114.9H197V114.4H196.5V116.2H196V113.4H195.5V115.3H195V114.3H194.5V111.9H194V112.4H193.5V113.4H193V113.2H192.5V112.7H192V110.5H191.5V109H191V109.7H190.5V109.4H190V110.6H189.5V108.6H189V107.7H188.5V108.7H188V106.6H187.5V108.3H187V106.9H186.5V107.3H186V106.6H185.5V106.8H185V106.7H184.5V105.2H184V106.7H183.5V105.3H183V105.5H182.5V104.3H182V103H181.5V102.8H181V103.6H180.5V104.4H180V103.5H179.5V103H179V102.4H178.5V101.6H178V102.7H177.5V102.6H177V101.6H176.5V100.3H176V101.6H175.5V101.3H175V100.2H174.5V99H174V99.6H173.5V99.1H173V99.5H172.5V97.9H172V97.9H171.5V99H171V96.8H170.5V96.5H170V96.9H169.5V95.8H169V96.9H168.5V97.3H168V97.1H167.5V96.9H167V96H166.5V95.8H166V94.7H165.5V95.3H165V95.6H164.5V95.3H164V93H163.5V93H163V93.7H162.5V93.3H162V91.9H161.5V92H161V92H160.5V93H160V92.1H159.5V91H159V90.7H158.5V90.7H158V89.3H157.5V90.6H157V89.7H156.5V89.8H156V89.4H155.5V89H155V90H154.5V88H154V89.5H153.5V87.5H153V88.2H152.5V87.5H152V87.7H151.5V86.6H151V87.9H150.5V87.2H150V87.2H149.5V87.2H149V85.8H148.5V86.1H148V85.9H147.5V85.4H147V85.2H146.5V84.1H146V83.4H145.5V84.4H145V84.6H144.5V83.1H144V82.8H143.5V84H143V83.5H142.5V83H142V83.3H141.5V82.1H141V81.5H140.5V81.5H140V82.1H139.5V82.1H139V80.7H138.5V80.9H138V81H137.5V80.9H137V80H136.5V78.8H136V79.3H135.5V79.8H135V77.8H134.5V76.8H134V78H133.5V78.3H133V77H132.5V77.5H132V76.8H131.5V76.5H131V77.5H130.5V75.5H130V76.9H129.5V76.2H129V75.4H128.5V74.6H128V75H127.5V75.6H127V75.6H126.5V74.8H126V74.5H125.5V74.5H125V74H124.5V73.6H124V72.4H123.5V72H123V72.2H122.5V71.8H122V71.6H121.5V71.9H121V71.4H120.5V71.4H120V70.9H119.5V70.5H119V70.1H118.5V69.3H118V70.2H117.5V70.2H117V69.4H116.5V69.9H116V69H115.5V69.2H115V68.7H114.5V68.6H114V68.6H113.5V68.2H113V67.6H112.5V67.6H112V68H111.5V67.9H111V67.4H110.5V66.7H110V66.2H109.5V66.3H109V65.8H108.5V66.6H108V67.3H107.5V66.3H107V66.7H106.5V66.9H106V66.6H105.5V66.1H105V65.6H104.5V65.7H104V66.3H103.5V65.8H103V65.6H102.5V65.7H102V65.4H101.5V65.8H101V66.1H100.5V66H100V64.6H99.5V65.3H99V65.5H98.5V65.4H98V65.1H97.5V65H97V65H96.5V64.8H96V64.2H95.5V65.1H95V65H94.5V64.6H94V63.7H93.5V64.3H93V64.6H92.5V64.5H92V64.6H91.5V64.6H91V64.3H90.5V63.4H90V63.2H89.5V64.1H89V64.4H88.5V64.4H88V63.5H87.5V63.6H87V63.6H86.5V63.6H86V64.2H85.5V64.1H85V63.5H84.5Z" fill="#00ff00" stroke="#00ff00" stroke-width="1" stroke-linejoin="miter" stroke-miterlimit="2"/>
<text transform="translate(74.30 295.10) scale(0.972 1)" text-anchor="end">0</text>
<text transform="translate(74.30 271.40) scale(0.972 1)" text-anchor="end">0.1</text>
<text transform="translate(74.30 247.70) scale(0.972 1)" text-anchor="end">0.2</text>
<text transform="translate(74.30 224.00) scale(0.972 1)" text-anchor="end">0.3</text>
<text transform="translate(74.30 200.30) scale(0.972 1)" text-anchor="end">0.4</text>
<text transform="translate(74.30 176.60) scale(0.972 1)" text-anchor="end">0.5</text>
<text transform="translate(74.30 152.90) scale(0.972 1)" text-anchor="end">0.6</text>
<text transform="translate(74.30 129.20) scale(0.972 1)" text-anchor="end">0.7</text>
<text transform="translate(74.30 105.50) scale(0.972 1)" text-anchor="end">0.8</text>
<text transform="translate(74.30 81.80) scale(0.972 1)" text-anchor="end">0.9</text>
<text transform="translate(74.30 58.10) scale(0.972 1)" text-anchor="end">1</text>
<text transform="translate(86.90 312.20) scale(0.972 1)" text-anchor="middle">0</text>
<text transform="translate(160.30 312.20) scale(0.972 1)" text-anchor="middle">0.2</text>
<text transform="translate(233.70 312.20) scale(0.972 1)" text-anchor="middle">0.4</text>
<text transform="translate(307.10 312.20) scale(0.972 1)" text-anchor="middle">0.6</text>
<text transform="translate(380.50 312.20) scale(0.972 1)" text-anchor="middle">0.8</text>
<text transform="translate(453.90 312.20) scale(0.972 1)" text-anchor="middle">1</text>
<text transform="translate(268.85 32.00) scale(0.973 1)" text-anchor="middle" style="font-size:17.6px">N=2048, M=100, T=0.125</text>
<text transform="translate(187.30 336.90) scale(0.993 1)" style="font-size:17px">Adiabatically tuned</text>
<text x="338.4" y="336.90" style="font-family:'Liberation Serif',serif;font-size:17.6px">&#916;</text>
<text transform="translate(22 178.50) rotate(-90) scale(0.93 1)">r</text>
<text transform="translate(14.6 172.80) rotate(-90) scale(0.86 1)" style="font-size:15.6px">st</text>
<text transform="translate(375.80 70.40) scale(0.96 1)" text-anchor="end">K=-0.25</text>
<path d="M386.3 64.50H431" stroke="#ff0000" stroke-width="1" fill="none"/>
<text transform="translate(375.80 87.40) scale(0.96 1)" text-anchor="end">=0.25</text>
<path d="M386.3 81.50H431" stroke="#0000ff" stroke-width="1" fill="none"/>
<text transform="translate(375.80 104.40) scale(0.96 1)" text-anchor="end">=-0.5</text>
<path d="M386.3 98.50H431" stroke="#a52a2a" stroke-width="1" fill="none"/>
<text transform="translate(375.80 121.40) scale(0.96 1)" text-anchor="end">=0.5</text>
<path d="M386.3 115.50H431" stroke="#00ff00" stroke-width="1" fill="none"/>
<text x="1.6" y="19.20" style="font-family:'Liberation Serif',serif;font-size:24.1px">(a)</text>
<path d="M84.50 611.80h4.5M451.50 611.80h-4.5M84.50 588.10h4.5M451.50 588.10h-4.5M84.50 564.40h4.5M451.50 564.40h-4.5M84.50 540.70h4.5M451.50 540.70h-4.5M84.50 517.00h4.5M451.50 517.00h-4.5M84.50 493.30h4.5M451.50 493.30h-4.5M84.50 469.60h4.5M451.50 469.60h-4.5M84.50 445.90h4.5M451.50 445.90h-4.5M84.50 422.20h4.5M451.50 422.20h-4.5M157.90 635.50v-4.5M157.90 398.50v4.5M231.30 635.50v-4.5M231.30 398.50v4.5M304.70 635.50v-4.5M304.70 398.50v4.5M378.10 635.50v-4.5M378.10 398.50v4.5" fill="none" stroke="#000" stroke-width="0.65"/>
<rect x="84.50" y="398.50" width="367.00" height="237.00" fill="none" stroke="#000" stroke-width="1"/>
<path d="M84.5 459.7H85V458.1H85.5V458.6H86V461.9H86.5V459.5H87V461.7H87.5V463.2H88V462.3H88.5V462H89V463H89.5V463.7H90V464.4H90.5V464.9H91V464.7H91.5V466.3H92V464.7H92.5V467.1H93V466.8H93.5V468.4H94V468.7H94.5V467.4H95V471.8H95.5V471.5H96V471.6H96.5V473.1H97V472.1H97.5V470.5H98V473H98.5V472.6H99V472.6H99.5V477H100V477.2H100.5V477.1H101V475.1H101.5V478.8H102V481.3H102.5V481.3H103V483.3H103.5V480.7H104V480H104.5V480H105V483.1H105.5V484.6H106V484.9H106.5V485.5H107V487.9H107.5V494H108V493.2H108.5V488.7H109V491.4H109.5V494.8H110V494.2H110.5V495.8H111V496.8H111.5V502.6H112V498H112.5V500.7H113V499.1H113.5V503.1H114V500.3H114.5V504.6H115V506.6H115.5V512.5H116V508.2H116.5V503.7H117V510.4H117.5V509.5H118V512.6H118.5V513.2H119V516.9H119.5V519H120V523.4H120.5V528.7H121V515.5H121.5V517.5H122V521H122.5V531.3H123V527H123.5V530.7H124V534H124.5V529H125V532.6H125.5V531.8H126V533.1H126.5V548.4H127V543.2H127.5V546.8H128V552.4H128.5V546.5H129V547.7H129.5V543.5H130V550.7H130.5V564.7H131V545.9H131.5V550.3H132V566.9H132.5V563.5H133V580.2H133.5V580.9H134V594H134.5V601.3H135V594.1H135.5V598H136V602.4H136.5V606.2H137V590.2H137.5V604.5H138V607.3H138.5V607.9H139V609.4H139.5V604.1H140V612.5H140.5V604.5H141V605.4H141.5V608.5H142V594.9H142.5V591.5H143V597.2H143.5V603.6H144V611.7H144.5V607.2H145V608.4H145.5V613.1H146V601.7H146.5V599.4H147V603.3H147.5V600.7H148V610.5H148.5V590.6H149V606.8H149.5V607.7H150V596.2H150.5V601.1H151V606.2H151.5V606.2H152V611.5H152.5V603.1H153V617.4H153.5V607.9H154V603.8H154.5V611.1H155V601.6H155.5V612.8H156V610.5H156.5V601.1H157V602.9H157.5V603.4H158V601.5H158.5V598H159V603.2H159.5V612H160V608H160.5V613.4H161V615.4H161.5V610.3H162V616.3H162.5V613.9H163V611.1H163.5V614.3H164V609.9H164.5V611.4H165V616.1H165.5V602.2H166V609.2H166.5V610.3H167V616.4H167.5V610.5H168V607.8H168.5V617.6H169V622.7H169.5V615.3H170V612.3H170.5V612.2H171V614.8H171.5V615.3H172V614H172.5V614H173V602.1H173.5V614.5H174V612H174.5V620.5H175V619.6H175.5V617.6H176V616.6H176.5V616.2H177V615.8H177.5V612.1H178V620.4H178.5V616.3H179V621.4H179.5V620.5H180V624.1H180.5V619.3H181V617.4H181.5V622.2H182V614.1H182.5V620.5H183V618.6H183.5V618.3H184V617.7H184.5V618.6H185V618.4H185.5V614.1H186V619H186.5V617.5H187V623.1H187.5V621.8H188V624.4H188.5V621.7H189V614.4H189.5V621.5H190V616.9H190.5V621.4H191V621.1H191.5V617.5H192V616.5H192.5V625.6H193V619.3H193.5V622.6H194V622.3H194.5V618.5H195V618.2H195.5V619.1H196V617.3H196.5V617.3H197V621.4H197.5V619.5H198V624.8H198.5V620.4H199V620.3H199.5V618.9H200V616.1H200.5V618.3H201V611.6H201.5V609.2H202V616.3H202.5V619.6H203V618.3H203.5V617.9H204V617.5H204.5V619.7H205V618.3H205.5V621.8H206V621.4H206.5V620.9H207V618.4H207.5V622.2H208V624.5H208.5V623.3H209V621.4H209.5V619.4H210V620.5H210.5V614.4H211V617.7H211.5V619.7H212V617.5H212.5V622.3H213V623.9H213.5V623.3H214V620.6H214.5V619.3H215V618.3H215.5V619H216V623.1H216.5V622.6H217V621.3H217.5V620.6H218V622.6H218.5V619.1H219V617.2H219.5V619.2H220V622.6H220.5V619.1H221V619.5H221.5V622.2H222V619.3H222.5V619.9H223V620.2H223.5V618.9H224V618.9H224.5V620.7H225V616.1H225.5V614H226V617.9H226.5V621.6H227V625.8H227.5V621.8H228V613.7H228.5V620.9H229V623.6H229.5V620.8H230V616.2H230.5V612.4H231V621.6H231.5V623.7H232V621.3H232.5V621.6H233V617.9H233.5V618.8H234V622.1H234.5V614H235V622.1H235.5V619.9H236V619.5H236.5V618.4H237V617.4H237.5V620.3H238V618.6H238.5V621.5H239V622H239.5V625.1H240V620.1H240.5V616.4H241V619.9H241.5V623.4H242V617.9H242.5V621.8H243V619.1H243.5V615.9H244V613.5H244.5V622.2H245V618.6H245.5V615H246V623.2H246.5V615.5H247V618.3H247.5V620.5H248V617.4H248.5V619.4H249V619.9H249.5V620.9H250V621.7H250.5V622.2H251V616.7H251.5V620.2H252V624.6H252.5V615H253V623.8H253.5V623.5H254V621.4H254.5V622.9H255V618H255.5V619.5H256V616.1H256.5V622.3H257V621.4H257.5V623H258V614.6H258.5V616.2H259V621.3H259.5V618H260V620.2H260.5V617.2H261V616.7H261.5V616.7H262V620.8H262.5V613.3H263V613.3H263.5V621.4H264V621.7H264.5V620.4H265V621.4H265.5V625H266V620.1H266.5V621.7H267V620.9H267.5V619.9H268V618.9H268.5V619.7H269V619.3H269.5V622.2H270V623H270.5V620.2H271V620.2H271.5V620.2H272V623.3H272.5V623H273V622H273.5V620.9H274V616.7H274.5V616.7H275V624.6H275.5V615.2H276V623H276.5V623.3H277V621.6H277.5V621H278V621.2H278.5V623.7H279V620.2H279.5V620.5H280V621.3H280.5V620.6H281V619.7H281.5V613.4H282V613.4H282.5V622.9H283V622.4H283.5V621.1H284V615.9H284.5V623.5H285V623.9H285.5V620.1H286V618H286.5V612.3H287V621.4H287.5V621.4H288V617.4H288.5V616.3H289V619.7H289.5V623.5H290V619.1H290.5V623H291V620.2H291.5V618.2H292V624.5H292.5V622.6H293V620.5H293.5V621.6H294V623.8H294.5V614.2H295V620.5H295.5V620.9H296V619.1H296.5V622.2H297V619H297.5V625.3H298V620H298.5V618H299V623.7H299.5V620.7H300V619.1H300.5V624.6H301V623.4H301.5V621.8H302V621.2H302.5V622.5H303V621.9H303.5V619.5H304V620.7H304.5V620.7H305V618.4H305.5V617.8H306V621.9H306.5V621.9H307V624.3H307.5V622.2H308V622.4H308.5V625H309V622.1H309.5V621.8H310V620.6H310.5V623.2H311V624.5H311.5V614.4H312V623.6H312.5V622.8H313V621.3H313.5V622.4H314V618.8H314.5V619.8H315V621.9H315.5V621.7H316V618.3H316.5V625.1H317V622.4H317.5V622.9H318V623.6H318.5V625.9H319V624.7H319.5V622.3H320V622.1H320.5V617.5H321V622H321.5V618.2H322V623H322.5V625.3H323V620.1H323.5V617.9H324V618.8H324.5V618.8H325V624.3H325.5V622.2H326V622.6H326.5V624.9H327V622H327.5V622H328V621.7H328.5V623H329V623.4H329.5V620.7H330V622.1H330.5V622.2H331V621.8H331.5V623.4H332V621.2H332.5V621.1H333V616.7H333.5V624.6H334V625.5H334.5V621.6H335V626H335.5V624H336V619.5H336.5V620.7H337V621.9H337.5V624.2H338V621H338.5V622.1H339V622.4H339.5V622.1H340V622.7H340.5V623H341V620.7H341.5V622.8H342V616.2H342.5V619.9H343V624.8H343.5V625.1H344V622.6H344.5V620H345V620H345.5V620.9H346V622.3H346.5V620.3H347V625.4H347.5V624H348V619.8H348.5V621H349V621.8H349.5V622.5H350V625.1H350.5V622.9H351V622H351.5V619.7H352V623.5H352.5V616.3H353V623.5H353.5V621.9H354V621.1H354.5V621.9H355V618.9H355.5V621.7H356V624.1H356.5V623H357V620.9H357.5V627.2H358V623.9H358.5V626.1H359V624.2H359.5V624.8H360V625.5H360.5V619.4H361V623.7H361.5V624H362V624.5H362.5V623.8H363V621.5H363.5V624.4H364V620H364.5V620H365V625.9H365.5V624.5H366V621.9H366.5V621.1H367V622.3H367.5V621H368V619.6H368.5V622.3H369V620.2H369.5V619.3H370V619.6H370.5V621H371V622.5H371.5V623.3H372V624.5H372.5V621.6H373V619.5H373.5V624.9H374V623.8H374.5V621.5H375V621.2H375.5V620.1H376V625.6H376.5V621.6H377V621.6H377.5V623H378V623.2H378.5V624.5H379V625.4H379.5V620.3H380V625.4H380.5V622.6H381V620.4H381.5V623.6H382V622.7H382.5V626.9H383V626H383.5V621.9H384V626.1H384.5V622.5H385V622.5H385.5V626.4H386V621.3H386.5V625H387V621.5H387.5V624H388V624.3H388.5V623.3H389V622H389.5V623.4H390V622H390.5V625.8H391V620.5H391.5V626.7H392V623H392.5V621.4H393V622.9H393.5V621H394V623.9H394.5V627.4H395V621H395.5V621.2H396V619.2H396.5V622.8H397V624.8H397.5V624.9H398V625.2H398.5V622.2H399V620.7H399.5V625.8H400V625.4H400.5V623.9H401V624.5H401.5V624.7H402V621.1H402.5V623.5H403V625.7H403.5V626.9H404V624.3H404.5V627.4H405V623.2H405.5V623.1H406V622.8H406.5V622.4H407V620H407.5V624.2H408V626.2H408.5V619.2H409V622.7H409.5V622.7H410V624.8H410.5V625.2H411V626.3H411.5V624.5H412V623.2H412.5V625.3H413V625.6H413.5V625H414V624.6H414.5V626.5H415V625.3H415.5V625.3H416V627.3H416.5V625H417V625H417.5V624.7H418V624.3H418.5V623.7H419V616.6H419.5V617.8H420V625.9H420.5V623.5H421V619.8H421.5V622.6H422V623.9H422.5V625.2H423V623.4H423.5V622.1H424V625H424.5V622.5H425V622.9H425.5V626.6H426V624.4H426.5V625.8H427V624.7H427.5V624.7H428V625H428.5V622.3H429V622.7H429.5V627.2H430V627H430.5V627.2H431V625H431.5V622.8H432V626.6H432.5V622.9H433V624.6H433.5V622H434V625.1H434.5V622.9H435V623.5H435.5V623.5H436V624H436.5V624.8H437V626.6H437.5V626.2H438V624.8H438.5V622H439V627.7H439.5V625.4H440V625.8H440.5V625.6H441V624.7H441.5V622.1H442V627.8H442.5V625.3H443V626H443.5V620.6H444V623.6H444.5V624.8H445V627.8H445.5V622.9H446V627.8H446.5V623.6H447V623.6H447.5V624.3H448V626.4H448.5V625.4H449V627.6H449.5V627.7H450V628.6H450.5V624.7H451V624.8H451.5V632.4H451V633.5H450.5V634.8H450V634.4H449.5V635.3H449V632.7H448.5V633.9H448V634H447.5V633.8H447V634.7H446.5V633.7H446V634.5H445.5V634.6H445V633.5H444.5V633.6H444V634.7H443.5V634.6H443V634.8H442.5V634.8H442V635.3H441.5V633.9H441V633.7H440.5V634.4H440V633.8H439.5V633.8H439V634.3H438.5V634.6H438V634.3H437.5V634.2H437V633.3H436.5V634.6H436V631.8H435.5V634.9H435V634.4H434.5V634.9H434V633.5H433.5V631.9H433V633.6H432.5V634.6H432V634.2H431.5V633.7H431V634.6H430.5V634.2H430V634.6H429.5V633.6H429V633.4H428.5V634H428V634.6H427.5V634.3H427V633.7H426.5V633.5H426V634.4H425.5V633.5H425V633.5H424.5V634.2H424V633.4H423.5V634.4H423V634H422.5V632.6H422V633.3H421.5V633H421V633H420.5V633.1H420V634.3H419.5V633.9H419V634.6H418.5V633.9H418V635H417.5V634.5H417V634.8H416.5V635.2H416V634.7H415.5V635H415V634.8H414.5V634.8H414V634.2H413.5V634.4H413V634.2H412.5V634.2H412V632.6H411.5V634.8H411V634.5H410.5V634.8H410V634.9H409.5V632.9H409V633.6H408.5V634H408V634.7H407.5V633.9H407V635.1H406.5V635H406V635H405.5V634.2H405V633.8H404.5V634H404V633.6H403.5V633.7H403V632.9H402.5V634.4H402V634.8H401.5V634.8H401V634H400.5V635H400V635.2H399.5V633.9H399V634.2H398.5V633.5H398V632.8H397.5V633.1H397V634.8H396.5V632.7H396V635H395.5V634H395V634.1H394.5V633.4H394V633H393.5V633.1H393V633.3H392.5V635.2H392V634H391.5V634.6H391V633.5H390.5V633.3H390V633.2H389.5V634.1H389V633.1H388.5V634H388V633H387.5V634.9H387V633.3H386.5V633.5H386V634.8H385.5V635.2H385V633.8H384.5V634H384V633.5H383.5V633.8H383V633.6H382.5V634.2H382V633.1H381.5V632.8H381V634H380.5V633.4H380V633.8H379.5V633.9H379V634.2H378.5V633.6H378V634.3H377.5V633.5H377V634.7H376.5V634.3H376V633.9H375.5V634.1H375V633.6H374.5V634.8H374V632.9H373.5V635H373V634.6H372.5V633.8H372V634.9H371.5V634.6H371V634.6H370.5V633.8H370V633.5H369.5V634.1H369V634.4H368.5V633.2H368V634.2H367.5V635.1H367V635.1H366.5V633.9H366V633.3H365.5V635.1H365V633.7H364.5V633.9H364V633.6H363.5V633.4H363V633.7H362.5V635H362V635H361.5V634.2H361V634.2H360.5V635.3H360V632.3H359.5V633.6H359V633.3H358.5V633.7H358V634.7H357.5V633.9H357V634.4H356.5V634.1H356V633.1H355.5V634.3H355V635H354.5V635H354V632.5H353.5V635.3H353V634.4H352.5V633.7H352V634.3H351.5V634.2H351V633.8H350.5V633.3H350V632.9H349.5V633.7H349V633.1H348.5V633.1H348V634.5H347.5V634.6H347V632.4H346.5V634.2H346V634.8H345.5V633.3H345V633.5H344.5V634H344V634.1H343.5V634.7H343V632.5H342.5V633.7H342V634.1H341.5V634.5H341V633.6H340.5V633.1H340V633.5H339.5V633.3H339V634.9H338.5V632.5H338V632.9H337.5V633.8H337V635.2H336.5V633.4H336V635.1H335.5V635.1H335V634.6H334.5V633.2H334V634.3H333.5V634.1H333V634.5H332.5V634.6H332V633.4H331.5V634.3H331V631.8H330.5V632.6H330V634.9H329.5V634H329V634H328.5V634.7H328V634.8H327.5V633.7H327V635.1H326.5V633.7H326V633.4H325.5V632.8H325V634H324.5V634H324V635.3H323.5V633.2H323V634.1H322.5V633.7H322V634.4H321.5V633.5H321V635.1H320.5V634.6H320V635.1H319.5V633.3H319V634.4H318.5V632.9H318V632.7H317.5V634.4H317V634.3H316.5V634H316V633.3H315.5V634.9H315V632.4H314.5V635H314V634.8H313.5V635.3H313V632.8H312.5V633H312V635.1H311.5V635.1H311V634.1H310.5V634H310V632.7H309.5V635H309V634.2H308.5V634.4H308V633.8H307.5V633.4H307V634.1H306.5V633.7H306V632.8H305.5V634.9H305V635.1H304.5V633.7H304V632.9H303.5V634.2H303V634.5H302.5V634.4H302V634.5H301.5V634.6H301V633.3H300.5V632.8H300V632.4H299.5V634.4H299V634.5H298.5V633.5H298V634.8H297.5V633.5H297V634.1H296.5V634.1H296V634.4H295.5V632.5H295V631.6H294.5V632.1H294V632.6H293.5V632.6H293V634.9H292.5V633.4H292V634H291.5V634.4H291V633.4H290.5V634.4H290V634.9H289.5V634.9H289V634.5H288.5V632.3H288V634.1H287.5V633H287V634.3H286.5V634.5H286V633.1H285.5V635H285V633.2H284.5V633.4H284V633.8H283.5V633.1H283V634.4H282.5V633.7H282V635.3H281.5V632.5H281V632.5H280.5V634.2H280V634H279.5V635.3H279V633.8H278.5V633.1H278V633.9H277.5V634.5H277V634H276.5V635H276V632.6H275.5V634.6H275V632.8H274.5V634.2H274V634.5H273.5V633.7H273V634.7H272.5V634.9H272V632.9H271.5V632.6H271V635H270.5V632.4H270V633.5H269.5V634.3H269V633.8H268.5V632H268V635.3H267.5V633.9H267V632H266.5V634.7H266V634.3H265.5V633H265V635.1H264.5V634.1H264V633.8H263.5V635H263V634.8H262.5V632.9H262V634H261.5V632.1H261V632.9H260.5V631.4H260V632.7H259.5V634.2H259V634.3H258.5V635.2H258V631.3H257.5V634.5H257V633.2H256.5V633.5H256V634.1H255.5V634.3H255V634H254.5V633.1H254V634.6H253.5V632H253V634.2H252.5V632.8H252V633.7H251.5V632.7H251V633.5H250.5V633.9H250V632.9H249.5V633.4H249V634.7H248.5V631.4H248V634.8H247.5V634.2H247V632.8H246.5V635H246V635H245.5V633.8H245V633.6H244.5V633.6H244V633.1H243.5V633.7H243V635.1H242.5V634.3H242V633.2H241.5V633.9H241V634.3H240.5V634.2H240V634.9H239.5V633.2H239V633.7H238.5V632.5H238V633.3H237.5V634.2H237V632.8H236.5V633H236V633.5H235.5V632.2H235V634.1H234.5V634.4H234V632.4H233.5V633.5H233V633.9H232.5V632.6H232V634.5H231.5V633.8H231V630.9H230.5V632.1H230V633.6H229.5V633.2H229V634.8H228.5V634.6H228V633.7H227.5V634.5H227V633.6H226.5V631.3H226V634.7H225.5V632.7H225V633.8H224.5V634H224V634H223.5V633.7H223V634.2H222.5V633.4H222V634.2H221.5V631.9H221V633.3H220.5V634.4H220V633.6H219.5V634.4H219V634.4H218.5V632.7H218V633.8H217.5V634.9H217V634.5H216.5V633.4H216V633.6H215.5V634H215V634.1H214.5V634.1H214V634.2H213.5V634.7H213V634.9H212.5V632.2H212V634.1H211.5V634.5H211V633.6H210.5V634.6H210V633.3H209.5V633.9H209V632.4H208.5V631.9H208V631.8H207.5V632.1H207V634.7H206.5V633.9H206V633H205.5V634.7H205V632.4H204.5V633.2H204V634.2H203.5V634.3H203V635.1H202.5V633.3H202V633.2H201.5V633.8H201V633.3H200.5V632.9H200V634.1H199.5V633.2H199V632H198.5V634.6H198V633.7H197.5V633.6H197V629.6H196.5V634.8H196V634.5H195.5V631.7H195V633H194.5V634.4H194V632.8H193.5V634.4H193V633.8H192.5V634.9H192V634.1H191.5V632.9H191V633.4H190.5V632.3H190V631.9H189.5V632.7H189V633.5H188.5V634.5H188V633H187.5V631.7H187V633.9H186.5V632.4H186V634.3H185.5V634.7H185V632.7H184.5V634.6H184V633.2H183.5V634.6H183V634.8H182.5V631.3H182V633.9H181.5V632.5H181V634.3H180.5V634.1H180V633.5H179.5V633.9H179V635H178.5V632.9H178V633.5H177.5V632.3H177V629.5H176.5V633.1H176V632.1H175.5V631.5H175V633.7H174.5V633.7H174V634H173.5V630.6H173V632.1H172.5V634.1H172V634.4H171.5V630.4H171V632.7H170.5V633H170V630.9H169.5V631.1H169V632.6H168.5V634.1H168V634.1H167.5V633.6H167V633.1H166.5V632.7H166V634.7H165.5V633.6H165V633.7H164.5V633H164V633.5H163.5V628.4H163V628.8H162.5V630H162V633.3H161.5V634.9H161V631.1H160.5V633H160V633.4H159.5V633.2H159V633.4H158.5V629.9H158V631.7H157.5V632.6H157V631.6H156.5V632H156V632.4H155.5V630.5H155V630.6H154.5V634.8H154V633.9H153.5V633.9H153V631H152.5V634.5H152V631.3H151.5V634.6H151V629.4H150.5V632H150V633.8H149.5V632.2H149V630.3H148.5V630H148V628H147.5V630.4H147V630.9H146.5V630.7H146V633.2H145.5V633.2H145V633.7H144.5V635.2H144V629.6H143.5V631.7H143V628.2H142.5V633H142V629.1H141.5V634.1H141V633.9H140.5V633.4H140V631.7H139.5V630.1H139V633.2H138.5V632.1H138V630.3H137.5V632.9H137V630.3H136.5V630H136V631.7H135.5V631.2H135V630.4H134.5V630.9H134V627.5H133.5V617.9H133V609.5H132.5V609.2H132V605.5H131.5V593H131V593H130.5V591.6H130V586.7H129.5V576.3H129V592.7H128.5V575.9H128V586H127.5V585.6H127V583.4H126.5V566.7H126V562.4H125.5V566.4H125V563H124.5V555.2H124V557.4H123.5V550.8H123V549.1H122.5V544.8H122V547.8H121.5V548.6H121V550.2H120.5V547.4H120V537.8H119.5V538H119V534.4H118.5V534.4H118V534.6H117.5V528.1H117V529.2H116.5V530.8H116V527.4H115.5V518.4H115V522.1H114.5V521.1H114V519.8H113.5V515.5H113V516.5H112.5V517H112V515.8H111.5V510.8H111V508.4H110.5V507.8H110V507.7H109.5V506.5H109V500.5H108.5V505.2H108V500.8H107.5V498.6H107V496.7H106.5V496.9H106V499.7H105.5V497.6H105V494.7H104.5V491.4H104V490.9H103.5V491.1H103V490.6H102.5V491H102V488.5H101.5V488H101V484.8H100.5V488.6H100V486.5H99.5V484.3H99V481.5H98.5V485.4H98V481H97.5V480.5H97V481.8H96.5V481.1H96V479.2H95.5V480.2H95V476.8H94.5V479.1H94V475.5H93.5V473.6H93V475.8H92.5V470.7H92V471.4H91.5V474.7H91V472.5H90.5V473.7H90V470.3H89.5V470.8H89V470.3H88.5V468.1H88V469.9H87.5V468.3H87V469.6H86.5V467.9H86V467.4H85.5V467.6H85V467.5H84.5Z" fill="#ff0000" stroke="#ff0000" stroke-width="1" stroke-linejoin="miter" stroke-miterlimit="2"/>
<path d="M84.5 426.3H85V426.3H85.5V425.9H86V425.6H86.5V427.3H87V425.6H87.5V426.8H88V426.7H88.5V427.1H89V425.8H89.5V426.8H90V427.6H90.5V427.4H91V427.3H91.5V427.3H92V427.3H92.5V427.2H93V427.8H93.5V427.1H94V426.6H94.5V426.9H95V428H95.5V427.7H96V427.1H96.5V428.2H97V428.7H97.5V428.6H98V428.8H98.5V428.2H99V428.5H99.5V428.7H100V429.5H100.5V429.8H101V430.5H101.5V429.3H102V430.2H102.5V430.6H103V430.6H103.5V430.8H104V430.8H104.5V432.3H105V432.5H105.5V433.2H106V433.3H106.5V433.1H107V433.7H107.5V434.1H108V432.9H108.5V434.5H109V433.7H109.5V435.1H110V435.8H110.5V435.7H111V436.5H111.5V436.4H112V437.4H112.5V438.2H113V437.8H113.5V438H114V437.1H114.5V438.7H115V439.4H115.5V439.1H116V438.5H116.5V439.6H117V439.8H117.5V441.4H118V441.5H118.5V442.3H119V442.1H119.5V440.8H120V442.9H120.5V442.1H121V441.9H121.5V444.7H122V445.4H122.5V445.3H123V443.9H123.5V443.7H124V444.1H124.5V445.3H125V446.2H125.5V445.7H126V446.6H126.5V446.1H127V448.3H127.5V447.2H128V448.2H128.5V448.4H129V449.4H129.5V450.7H130V450.2H130.5V450.1H131V451.4H131.5V451.4H132V453.1H132.5V453.7H133V453H133.5V453.3H134V455.3H134.5V452.9H135V453.9H135.5V454.8H136V455.2H136.5V455H137V457.1H137.5V455.8H138V455.8H138.5V459.1H139V457.8H139.5V456.9H140V457.9H140.5V460.5H141V460.9H141.5V459.3H142V461.4H142.5V459.3H143V461.7H143.5V462.6H144V464.2H144.5V464.1H145V463.3H145.5V462.7H146V462.2H146.5V465.4H147V463.3H147.5V464H148V463.6H148.5V466.4H149V464.3H149.5V468.2H150V466.4H150.5V466.6H151V468.1H151.5V469.6H152V468.8H152.5V470.5H153V468H153.5V471.3H154V469.9H154.5V472H155V471.9H155.5V472.6H156V471.4H156.5V472.9H157V474.8H157.5V473.2H158V475H158.5V476.3H159V474.6H159.5V474.3H160V474.1H160.5V477.6H161V476.7H161.5V479.2H162V476.7H162.5V480.2H163V480.9H163.5V477.5H164V479.5H164.5V478.1H165V481.9H165.5V480.4H166V481.7H166.5V483H167V483.1H167.5V484.8H168V481.6H168.5V485.2H169V485.5H169.5V485.7H170V487.8H170.5V486.9H171V486.3H171.5V488H172V487.5H172.5V490.9H173V490.7H173.5V489.9H174V488.8H174.5V491.9H175V492.7H175.5V494.3H176V490.9H176.5V494.1H177V493.7H177.5V497H178V499.7H178.5V496.9H179V495.7H179.5V498.6H180V495.8H180.5V496.7H181V500.5H181.5V500.2H182V499.4H182.5V498.9H183V502.8H183.5V502.7H184V508.3H184.5V506.1H185V505.8H185.5V506.9H186V508.2H186.5V503.1H187V505.9H187.5V507.3H188V507.1H188.5V507.5H189V516.5H189.5V515.6H190V511.5H190.5V507.8H191V515.3H191.5V509.6H192V512.9H192.5V513.4H193V514.6H193.5V513.4H194V517.2H194.5V515.6H195V521.1H195.5V515.5H196V518.5H196.5V517.4H197V523.3H197.5V517.9H198V522.5H198.5V522.5H199V522.4H199.5V520.5H200V523.3H200.5V523.7H201V525.1H201.5V527.2H202V523.2H202.5V525.4H203V525.2H203.5V526.8H204V529.7H204.5V527.9H205V529.6H205.5V528.9H206V536.5H206.5V538.8H207V534.3H207.5V534.3H208V540.6H208.5V543.1H209V535.3H209.5V535.8H210V537.4H210.5V537.4H211V534.7H211.5V541.4H212V542.8H212.5V535.9H213V534.9H213.5V544H214V539.1H214.5V547.5H215V553.4H215.5V545H216V550.2H216.5V565.3H217V544.9H217.5V559.3H218V553.8H218.5V563.7H219V557.5H219.5V543.6H220V552.4H220.5V550H221V581.6H221.5V582.7H222V599.5H222.5V580.8H223V597H223.5V594.6H224V571.7H224.5V587.5H225V589.6H225.5V570.7H226V593.2H226.5V591.8H227V592H227.5V598.6H228V587H228.5V591.9H229V584.2H229.5V584.2H230V586H230.5V591.7H231V593.7H231.5V595.8H232V591.9H232.5V594.9H233V590.2H233.5V592.1H234V598H234.5V595H235V595H235.5V590H236V593.2H236.5V594.8H237V590.4H237.5V596.8H238V602H238.5V595.1H239V601.2H239.5V604.4H240V605.9H240.5V600.7H241V596.5H241.5V591.5H242V604.7H242.5V598.9H243V606.3H243.5V607H244V614H244.5V597.3H245V611.2H245.5V605.4H246V594.5H246.5V599.3H247V606.8H247.5V605.2H248V605.2H248.5V602.1H249V608.8H249.5V611.6H250V604.7H250.5V605.5H251V614.2H251.5V611.1H252V604H252.5V608.8H253V604.8H253.5V607.1H254V608.9H254.5V611.6H255V617H255.5V614.2H256V606.3H256.5V615.8H257V620.2H257.5V605.5H258V618H258.5V616.6H259V618.3H259.5V616H260V619.4H260.5V606.9H261V611.1H261.5V612.9H262V610.8H262.5V607.4H263V613.2H263.5V615H264V608.2H264.5V611H265V610.5H265.5V607.1H266V618H266.5V608.1H267V611.8H267.5V613.1H268V609.8H268.5V617.7H269V616.2H269.5V609H270V607.9H270.5V613.7H271V619.8H271.5V614.2H272V609.1H272.5V609.7H273V609.7H273.5V614.5H274V620.6H274.5V615.2H275V611.3H275.5V615.4H276V617.5H276.5V613.7H277V618.6H277.5V620.2H278V621.7H278.5V614.4H279V615.2H279.5V614.6H280V617.3H280.5V608.9H281V617H281.5V614.5H282V615.7H282.5V618H283V614.3H283.5V613.9H284V613.9H284.5V610.5H285V621.1H285.5V617.9H286V616.8H286.5V614.7H287V611.9H287.5V619.9H288V617.3H288.5V611.9H289V618.3H289.5V621.1H290V618.2H290.5V615.8H291V621.9H291.5V616.5H292V616.7H292.5V612.3H293V621.6H293.5V617.1H294V618.5H294.5V617.4H295V613.9H295.5V612.2H296V623H296.5V617.6H297V613.6H297.5V619.2H298V619.4H298.5V618.4H299V618.8H299.5V617.5H300V615.5H300.5V617.6H301V614.6H301.5V614.4H302V618.4H302.5V613.8H303V619.4H303.5V616.3H304V618.1H304.5V619.2H305V615.1H305.5V620.9H306V617.4H306.5V617.8H307V622H307.5V616H308V620.8H308.5V612.2H309V619.6H309.5V623.3H310V620.7H310.5V619.9H311V615.3H311.5V616.2H312V621.5H312.5V622.4H313V622.6H313.5V623.9H314V620.4H314.5V612.1H315V618.3H315.5V624.4H316V624.4H316.5V617H317V619.6H317.5V618.4H318V623.3H318.5V614.8H319V617.1H319.5V621.8H320V615.7H320.5V618.5H321V615.9H321.5V619.2H322V618.6H322.5V619.3H323V621.4H323.5V617.2H324V617.5H324.5V619.3H325V623H325.5V617.6H326V618.2H326.5V621H327V620.8H327.5V618.9H328V621.7H328.5V620.5H329V621.7H329.5V619.5H330V620.6H330.5V619.5H331V618.3H331.5V617.2H332V623.7H332.5V620.9H333V619.6H333.5V619.6H334V623H334.5V623H335V617.1H335.5V620.8H336V621.8H336.5V619.7H337V620.8H337.5V618.7H338V621.4H338.5V619H339V622.4H339.5V620.9H340V620.2H340.5V619.9H341V624.3H341.5V623.1H342V615.8H342.5V623.3H343V619.5H343.5V620.3H344V623.9H344.5V620.4H345V619.3H345.5V615.6H346V615.6H346.5V622H347V621.8H347.5V619.7H348V620.6H348.5V620H349V617.4H349.5V624.2H350V625.5H350.5V624.8H351V621.1H351.5V621.2H352V622.1H352.5V615.1H353V619.9H353.5V620.1H354V625.7H354.5V624.6H355V623.8H355.5V624H356V622.8H356.5V621.9H357V620.1H357.5V617.9H358V622.3H358.5V626.9H359V624.5H359.5V620.9H360V623.2H360.5V622.5H361V618.1H361.5V621.2H362V624.6H362.5V621H363V619H363.5V622.9H364V618.5H364.5V620.7H365V623H365.5V621.2H366V623H366.5V619H367V624.5H367.5V624.6H368V623H368.5V622.6H369V621H369.5V623.2H370V622.9H370.5V622.9H371V623.3H371.5V622.7H372V624.3H372.5V624.8H373V623.8H373.5V625.6H374V624.7H374.5V622.9H375V622.2H375.5V623.3H376V622.8H376.5V623.5H377V619H377.5V626.7H378V624.2H378.5V622.7H379V624.9H379.5V626.6H380V623.4H380.5V623.6H381V624.3H381.5V620H382V623.3H382.5V621.4H383V623H383.5V624.7H384V623.6H384.5V624.7H385V625H385.5V625.4H386V624.5H386.5V620.8H387V622.9H387.5V625H388V625.2H388.5V622.5H389V622.5H389.5V624.7H390V621.2H390.5V625.4H391V624.3H391.5V626.3H392V624.2H392.5V619.1H393V622.9H393.5V624.6H394V624H394.5V625.1H395V622.2H395.5V626.3H396V624.2H396.5V624.6H397V625.7H397.5V620.7H398V624.1H398.5V622.7H399V624.3H399.5V627.3H400V627.2H400.5V625.6H401V624.6H401.5V624.4H402V624.7H402.5V626H403V625.9H403.5V623.5H404V625.2H404.5V625.8H405V624.9H405.5V625H406V625.9H406.5V623H407V622.7H407.5V622.7H408V627.2H408.5V624.5H409V623.9H409.5V624.2H410V623.7H410.5V624.8H411V625.2H411.5V625.2H412V626H412.5V623.7H413V623.2H413.5V618.7H414V623.3H414.5V626.6H415V624.5H415.5V624.5H416V621.8H416.5V626.2H417V625.2H417.5V624.3H418V622.8H418.5V624.8H419V625.2H419.5V624.1H420V623.3H420.5V623H421V620.7H421.5V620.1H422V623.2H422.5V626.8H423V625.1H423.5V625.3H424V624.4H424.5V624H425V626H425.5V623.6H426V626.5H426.5V623.1H427V623.2H427.5V624.9H428V623.6H428.5V623.5H429V618.4H429.5V624.1H430V624.1H430.5V626.1H431V624H431.5V624.1H432V623.3H432.5V624.4H433V625.1H433.5V624.6H434V625H434.5V624.2H435V622.8H435.5V624.6H436V625.2H436.5V625.3H437V624.5H437.5V623.6H438V626.9H438.5V625H439V625.4H439.5V624.6H440V625.6H440.5V626H441V627.5H441.5V623.1H442V627.8H442.5V626.9H443V624.1H443.5V624.6H444V624.7H444.5V626.8H445V624.4H445.5V624.3H446V624.3H446.5V625.6H447V624.2H447.5V625H448V626H448.5V624.9H449V626.3H449.5V625.8H450V620.7H450.5V624.7H451V626.9H451.5V634.4H451V634H450.5V633.2H450V634.4H449.5V634H449V634.7H448.5V634.8H448V634.1H447.5V634.7H447V634.4H446.5V634.8H446V634.6H445.5V633.6H445V634.6H444.5V633.7H444V635.2H443.5V634.4H443V635.1H442.5V635.1H442V634.5H441.5V634.3H441V634.3H440.5V634H440V633.4H439.5V634.2H439V634.5H438.5V633.5H438V632.6H437.5V632.7H437V633.5H436.5V633.9H436V634.5H435.5V635H435V632.4H434.5V633.3H434V634.5H433.5V634.4H433V634.9H432.5V633.8H432V634.5H431.5V634.4H431V635.1H430.5V633.8H430V633.9H429.5V633.9H429V634.8H428.5V633.5H428V633.9H427.5V633.2H427V633.9H426.5V633.3H426V633.8H425.5V635.1H425V634.1H424.5V633.7H424V633.1H423.5V634H423V634.2H422.5V633.5H422V634.9H421.5V634.3H421V633.7H420.5V634.8H420V634.1H419.5V635.3H419V634.8H418.5V635H418V632.9H417.5V634.9H417V634.9H416.5V634.5H416V635H415.5V634H415V635.3H414.5V634.2H414V634.5H413.5V633.8H413V633.9H412.5V634.9H412V634.7H411.5V633.4H411V635H410.5V632.2H410V634.7H409.5V632.7H409V633.9H408.5V634.1H408V634.5H407.5V634.7H407V633.9H406.5V634.8H406V635.3H405.5V633.3H405V635.3H404.5V632.3H404V634.7H403.5V634.6H403V634.2H402.5V634.6H402V634.2H401.5V634.8H401V634.8H400.5V634.1H400V633.6H399.5V634.9H399V634H398.5V634.7H398V634.7H397.5V633.9H397V633.7H396.5V633.6H396V635.2H395.5V633.7H395V635.3H394.5V635H394V634H393.5V633H393V632.5H392.5V633.2H392V635H391.5V633.8H391V632.7H390.5V633.1H390V634H389.5V634H389V634.7H388.5V635.1H388V633.4H387.5V632.9H387V633.3H386.5V633.4H386V634.5H385.5V635.2H385V634.7H384.5V633.4H384V634.2H383.5V634.2H383V634.9H382.5V634.9H382V633.9H381.5V634.1H381V633.4H380.5V632.1H380V634.7H379.5V634.5H379V634.6H378.5V632.6H378V634.7H377.5V634.3H377V633.2H376.5V634.3H376V634.2H375.5V634.8H375V633.9H374.5V632.6H374V633.7H373.5V634.6H373V633.4H372.5V632.3H372V633.8H371.5V634.1H371V634.6H370.5V631.5H370V633.6H369.5V633.4H369V633.3H368.5V634.4H368V634.4H367.5V633.5H367V633.5H366.5V634.2H366V634.4H365.5V634.4H365V634.5H364.5V633.6H364V634.4H363.5V634.6H363V635.1H362.5V634.8H362V632.8H361.5V633.9H361V633.6H360.5V633.6H360V634.1H359.5V634.5H359V633.8H358.5V634.8H358V633.3H357.5V632.4H357V632.3H356.5V634.2H356V632.5H355.5V632.5H355V634.4H354.5V634.3H354V633.1H353.5V634.1H353V631.9H352.5V633.1H352V634H351.5V634.2H351V633.5H350.5V635.2H350V634.9H349.5V634.6H349V634.2H348.5V633.2H348V634.2H347.5V634.1H347V635.2H346.5V632.9H346V632H345.5V633.3H345V634.4H344.5V634.3H344V635H343.5V634.1H343V633.7H342.5V633.2H342V632.9H341.5V633.4H341V633.1H340.5V631.7H340V633.7H339.5V634.1H339V634.9H338.5V633.9H338V633.8H337.5V635.3H337V631.8H336.5V634.3H336V635.2H335.5V632H335V633.5H334.5V634.1H334V631.4H333.5V634.7H333V634.5H332.5V633.6H332V634.4H331.5V632.7H331V634.4H330.5V634.4H330V632.1H329.5V634.1H329V633.8H328.5V632.6H328V633.8H327.5V634.1H327V633.2H326.5V634H326V633.2H325.5V632.3H325V632.7H324.5V634.3H324V633.9H323.5V634.2H323V634.2H322.5V634.8H322V634H321.5V633.7H321V633.1H320.5V633.3H320V634.8H319.5V635H319V634.3H318.5V634.8H318V634.9H317.5V632.8H317V635.1H316.5V634.2H316V634.7H315.5V632.7H315V632.7H314.5V635.2H314V635.2H313.5V634.2H313V633.1H312.5V634.3H312V632.1H311.5V634.3H311V634.7H310.5V633.2H310V634.4H309.5V633H309V634.2H308.5V633.2H308V634.7H307.5V633.1H307V632.5H306.5V632.7H306V633H305.5V634.5H305V634.9H304.5V632.5H304V633.8H303.5V635.3H303V633.2H302.5V633.8H302V633.8H301.5V635.2H301V633.7H300.5V633.1H300V632.3H299.5V632.7H299V634.5H298.5V632.3H298V632.1H297.5V633.3H297V633.3H296.5V634.2H296V632.8H295.5V635H295V633.8H294.5V631.5H294V633.7H293.5V633.1H293V632.5H292.5V633.7H292V634.5H291.5V634.8H291V633.4H290.5V633.3H290V634.7H289.5V633H289V632.4H288.5V633.7H288V633.6H287.5V632.8H287V632.5H286.5V634.2H286V635.2H285.5V634.2H285V634.6H284.5V630.9H284V633.1H283.5V633.1H283V634.2H282.5V632.7H282V634.4H281.5V634.4H281V633.4H280.5V631.9H280V634.3H279.5V634.9H279V631.6H278.5V634.8H278V633.6H277.5V633.7H277V632H276.5V634.9H276V631.2H275.5V631.7H275V634.3H274.5V632.8H274V634.8H273.5V629.4H273V632H272.5V629.8H272V634.5H271.5V634.5H271V633H270.5V633.8H270V634.1H269.5V633.1H269V633.7H268.5V633.7H268V632.4H267.5V634.1H267V632.7H266.5V634.5H266V631.7H265.5V629.7H265V632.6H264.5V633.6H264V632.3H263.5V634.6H263V633.7H262.5V633.4H262V634.7H261.5V632.3H261V631.6H260.5V634.9H260V630.4H259.5V633.4H259V634.2H258.5V633.2H258V633.7H257.5V634.2H257V632.6H256.5V630.5H256V633.7H255.5V633.1H255V630.4H254.5V632.5H254V635H253.5V632H253V632H252.5V632.5H252V632.8H251.5V633.4H251V632.1H250.5V633H250V633.7H249.5V632.8H249V634.3H248.5V634.1H248V631.7H247.5V634.2H247V633.6H246.5V633.6H246V634.1H245.5V632.2H245V631.5H244.5V631.5H244V631.2H243.5V630.7H243V634.5H242.5V634.4H242V630.2H241.5V630.6H241V630.6H240.5V631.7H240V634.6H239.5V632.8H239V630.7H238.5V630.9H238V630.9H237.5V630.1H237V627.9H236.5V630H236V630.6H235.5V629.8H235V628.8H234.5V631.1H234V628.8H233.5V632.7H233V628.8H232.5V630.8H232V629.9H231.5V632.9H231V624.1H230.5V634.5H230V631H229.5V632.6H229V633.4H228.5V632.1H228V631.3H227.5V630.1H227V632H226.5V624.5H226V623.8H225.5V630H225V630.9H224.5V626.3H224V632.8H223.5V631.4H223V628.5H222.5V626.5H222V633.1H221.5V625.1H221V614.6H220.5V606.6H220V614.4H219.5V607.1H219V600.2H218.5V589.4H218V598.5H217.5V588.3H217V584.6H216.5V590.6H216V580.6H215.5V580.2H215V568.8H214.5V575.3H214V574.6H213.5V569.3H213V567.2H212.5V569H212V574.2H211.5V565.3H211V568.3H210.5V565.6H210V563.2H209.5V561.2H209V563.7H208.5V561.6H208V550.9H207.5V553.6H207V558.9H206.5V559.9H206V558.5H205.5V552.8H205V546.4H204.5V548.8H204V546.1H203.5V544.6H203V549.6H202.5V544.6H202V543.7H201.5V547H201V539.9H200.5V539.9H200V537.9H199.5V538.1H199V542.1H198.5V543.4H198V538.7H197.5V534.8H197V534.8H196.5V534.2H196V532.8H195.5V532.8H195V536.8H194.5V534.4H194V530H193.5V527.9H193V526.4H192.5V526.4H192V529.9H191.5V524.9H191V528H190.5V528.2H190V527.6H189.5V526.1H189V525.3H188.5V516.1H188V516.7H187.5V518H187V516.3H186.5V518H186V520.5H185.5V518.9H185V518.3H184.5V515.7H184V517.1H183.5V513.8H183V511.4H182.5V509.1H182V512H181.5V512.7H181V504.6H180.5V508.6H180V510.4H179.5V507.6H179V506.8H178.5V508.4H178V507.4H177.5V505.6H177V501.7H176.5V502.4H176V504H175.5V501.8H175V501.9H174.5V497.7H174V499.2H173.5V498.4H173V500.1H172.5V497.8H172V494.5H171.5V498.2H171V497.9H170.5V496.5H170V497H169.5V494H169V492.3H168.5V495H168V493H167.5V491.8H167V490.9H166.5V491.3H166V487.7H165.5V491.4H165V488.6H164.5V488.7H164V485.7H163.5V487H163V487.2H162.5V485.4H162V487.5H161.5V485.2H161V485.1H160.5V482.6H160V480.4H159.5V480.1H159V480.8H158.5V482.3H158V482.6H157.5V481.5H157V480.6H156.5V477.6H156V477.9H155.5V479.6H155V478.8H154.5V478.9H154V477.3H153.5V477.3H153V478.3H152.5V475.1H152V475.3H151.5V476.3H151V476.2H150.5V474.5H150V474.1H149.5V473.5H149V472.7H148.5V472.3H148V472.3H147.5V471H147V471H146.5V470H146V469.1H145.5V470.9H145V469.6H144.5V469.4H144V468H143.5V468.9H143V468.6H142.5V467.2H142V465.9H141.5V467.2H141V466.8H140.5V464.8H140V463.8H139.5V463.5H139V464.9H138.5V464.2H138V462.7H137.5V463.6H137V459.4H136.5V461.2H136V459.9H135.5V458.6H135V458.5H134.5V459.6H134V458.2H133.5V459.7H133V459.2H132.5V459.3H132V456.4H131.5V456.2H131V456.7H130.5V454.7H130V454.8H129.5V455.9H129V453.1H128.5V454.2H128V453.3H127.5V452.5H127V451.8H126.5V451.3H126V453.3H125.5V451.7H125V451H124.5V451H124V450.6H123.5V450.5H123V448.8H122.5V449.5H122V449.5H121.5V448.1H121V446.6H120.5V446.7H120V446.2H119.5V446.8H119V447.2H118.5V446.9H118V445.5H117.5V444.7H117V444.5H116.5V445.1H116V444.2H115.5V444.5H115V442.4H114.5V442.3H114V441.8H113.5V442.8H113V442H112.5V441.5H112V439.9H111.5V440.5H111V438.9H110.5V440.6H110V437.7H109.5V438.3H109V438.4H108.5V437.1H108V437.3H107.5V437H107V437H106.5V437H106V436.2H105.5V436.7H105V436.8H104.5V436H104V435.7H103.5V434.7H103V433.7H102.5V434.7H102V433.9H101.5V434.4H101V432.5H100.5V433.8H100V431.6H99.5V431.3H99V431.1H98.5V431.9H98V432.5H97.5V431.9H97V431.1H96.5V431.3H96V431.5H95.5V431.5H95V430.7H94.5V430.1H94V431.4H93.5V430.6H93V430.3H92.5V430.3H92V431.2H91.5V430.8H91V430.3H90.5V430.9H90V429.7H89.5V430H89V430.4H88.5V430.2H88V429.4H87.5V428.5H87V429.5H86.5V429.4H86V429.4H85.5V429.2H85V430.2H84.5Z" fill="#0000ff" stroke="#0000ff" stroke-width="1" stroke-linejoin="miter" stroke-miterlimit="2"/>
<path d="M84.5 579.5H85V596.5H85.5V597.4H86V597.1H86.5V595.9H87V594.5H87.5V594.2H88V596.4H88.5V598.8H89V601.7H89.5V600.3H90V601.3H90.5V601.3H91V604.5H91.5V605.4H92V611.1H92.5V602.8H93V610.3H93.5V603.3H94V606.6H94.5V612H95V606.2H95.5V607.9H96V611H96.5V606.5H97V610.2H97.5V603.6H98V605.9H98.5V617.2H99V610.8H99.5V611.6H100V610.6H100.5V604.6H101V612.8H101.5V612.1H102V620.7H102.5V615.7H103V614.1H103.5V617.5H104V617.1H104.5V616.7H105V616.7H105.5V614.8H106V610.7H106.5V619.5H107V610.1H107.5V623.1H108V617.1H108.5V620.3H109V621H109.5V613.2H110V617.4H110.5V621.1H111V616.8H111.5V621.4H112V618.6H112.5V615.8H113V618.3H113.5V618.6H114V622.6H114.5V618.6H115V618.8H115.5V622H116V621.8H116.5V617.2H117V619.3H117.5V618.2H118V620H118.5V617.4H119V619.9H119.5V618.1H120V620.5H120.5V621.3H121V622.9H121.5V618.2H122V618.4H122.5V621.1H123V614.5H123.5V625.8H124V618.8H124.5V623.3H125V620.1H125.5V617.2H126V618H126.5V622.8H127V624.5H127.5V623.4H128V619.4H128.5V620.8H129V622.9H129.5V621H130V619.4H130.5V617.8H131V620.9H131.5V621.4H132V622.7H132.5V618.5H133V620.8H133.5V619.7H134V619.6H134.5V619.2H135V620.1H135.5V617.4H136V624.8H136.5V616.6H137V621.8H137.5V619.9H138V621.6H138.5V621.8H139V621.8H139.5V621.1H140V618.9H140.5V623.4H141V623.4H141.5V622.1H142V618.1H142.5V623.5H143V619.7H143.5V624.8H144V617.8H144.5V623.8H145V624.6H145.5V619.1H146V625.4H146.5V621H147V623.8H147.5V623.5H148V624.4H148.5V621.3H149V626.2H149.5V625.1H150V624.3H150.5V621.6H151V624.2H151.5V617.6H152V624.7H152.5V622H153V620.9H153.5V622H154V622.4H154.5V621.4H155V621.4H155.5V620.5H156V620.8H156.5V621.3H157V623.6H157.5V619.4H158V625H158.5V622.3H159V624.4H159.5V621.2H160V621.2H160.5V622.4H161V621.4H161.5V622.5H162V624.5H162.5V625.8H163V624.7H163.5V624.7H164V624.6H164.5V622.6H165V623.4H165.5V622.5H166V623.1H166.5V619.6H167V627.2H167.5V626.5H168V623.3H168.5V622.9H169V623.3H169.5V621.9H170V620.8H170.5V623.5H171V622.4H171.5V626.3H172V621.5H172.5V624.5H173V626.1H173.5V626.3H174V622.2H174.5V620.9H175V618.9H175.5V623H176V626.9H176.5V623.2H177V624.9H177.5V625.3H178V625H178.5V623.1H179V624H179.5V625.5H180V623.5H180.5V621.2H181V621.9H181.5V625.7H182V623.9H182.5V619.1H183V625.2H183.5V625.8H184V623.1H184.5V621.1H185V622.3H185.5V623.2H186V625.4H186.5V623.6H187V623.7H187.5V624H188V625.5H188.5V622H189V624.1H189.5V622.6H190V624.4H190.5V626.9H191V622.3H191.5V625.8H192V625.7H192.5V624.6H193V620.9H193.5V625.9H194V623.1H194.5V628.3H195V622.3H195.5V627.2H196V624.2H196.5V624.6H197V624.4H197.5V621.1H198V625.1H198.5V622.4H199V626.3H199.5V625.5H200V624.6H200.5V623.4H201V623.8H201.5V625.3H202V628.2H202.5V626.2H203V624.5H203.5V620.3H204V620.3H204.5V623.9H205V622.6H205.5V623H206V625.6H206.5V626H207V624.5H207.5V624.6H208V624.9H208.5V624.1H209V622.9H209.5V623.4H210V625.4H210.5V623.5H211V624.8H211.5V624.2H212V620.1H212.5V624.5H213V621.1H213.5V623.6H214V625.2H214.5V622H215V623.7H215.5V627H216V626.6H216.5V624.6H217V624.5H217.5V626.1H218V625.2H218.5V625H219V620.6H219.5V624.5H220V623.8H220.5V624.1H221V622.3H221.5V617.2H222V626.3H222.5V620.2H223V623.9H223.5V620.2H224V622.8H224.5V626.3H225V623.9H225.5V625.8H226V623.5H226.5V621.1H227V620.8H227.5V625H228V626.4H228.5V623H229V625.2H229.5V624.8H230V625.4H230.5V622.9H231V623.2H231.5V624H232V624H232.5V623.2H233V624.3H233.5V618.6H234V621H234.5V626.2H235V626.1H235.5V623.8H236V623.6H236.5V626H237V628.6H237.5V626.7H238V620.9H238.5V620.9H239V623.9H239.5V624.6H240V623.9H240.5V624.2H241V623.4H241.5V626.8H242V622.9H242.5V622.1H243V624.1H243.5V626.9H244V623.2H244.5V624.3H245V624.3H245.5V623H246V623.7H246.5V618.8H247V622.8H247.5V627.1H248V623.6H248.5V622H249V625H249.5V626.9H250V625.4H250.5V624.2H251V620.6H251.5V626.7H252V620.9H252.5V622.2H253V626.7H253.5V624.9H254V623.7H254.5V624H255V623.4H255.5V626.5H256V624.3H256.5V624.5H257V624.4H257.5V620.7H258V624.1H258.5V620.6H259V626.2H259.5V625H260V627.2H260.5V625.5H261V625.3H261.5V625.2H262V622.5H262.5V624.7H263V627.4H263.5V625.5H264V625.5H264.5V625.3H265V626.4H265.5V622.9H266V625.7H266.5V623.8H267V626.5H267.5V626.5H268V620.4H268.5V624.2H269V627.1H269.5V624.3H270V623.9H270.5V624.7H271V627H271.5V625.1H272V625.9H272.5V622.4H273V621.5H273.5V626.4H274V622H274.5V624.1H275V624.8H275.5V627.1H276V621H276.5V627.6H277V626.1H277.5V626.7H278V626.9H278.5V624.6H279V623.4H279.5V621.1H280V624H280.5V626.4H281V624.2H281.5V624.9H282V626.6H282.5V624.5H283V625.2H283.5V624.2H284V625.8H284.5V623H285V621.5H285.5V627.8H286V627.3H286.5V628.3H287V625.7H287.5V626.1H288V623.3H288.5V624.6H289V624.6H289.5V624.6H290V625H290.5V625.5H291V625.4H291.5V625.4H292V625.4H292.5V623.1H293V626.8H293.5V626.3H294V624.6H294.5V626.7H295V622.1H295.5V621.2H296V625.9H296.5V623.6H297V620.6H297.5V626H298V623.7H298.5V625H299V623H299.5V623.5H300V624.4H300.5V625.1H301V627.2H301.5V619.5H302V625.5H302.5V624H303V626.7H303.5V623H304V624.1H304.5V626.7H305V623.2H305.5V627.1H306V622.6H306.5V627.6H307V625.5H307.5V623.8H308V620.3H308.5V625.9H309V622.2H309.5V625.3H310V623.6H310.5V619.4H311V627.4H311.5V624.5H312V623H312.5V624.8H313V626.6H313.5V623.8H314V620.7H314.5V620.7H315V624.3H315.5V623.7H316V626.2H316.5V623.1H317V625.3H317.5V621.9H318V621.9H318.5V626.1H319V624H319.5V626H320V626.3H320.5V627.3H321V624.9H321.5V626.6H322V626.6H322.5V623.2H323V626.3H323.5V625H324V623.2H324.5V623.2H325V627.3H325.5V626.6H326V623.8H326.5V624.6H327V625.7H327.5V626H328V623.9H328.5V624.8H329V624.6H329.5V623.5H330V625.9H330.5V624H331V623.8H331.5V623.2H332V623.8H332.5V627.9H333V626.8H333.5V622.1H334V626.4H334.5V627.8H335V625.3H335.5V624.3H336V623.6H336.5V623.3H337V623.1H337.5V624.4H338V624.6H338.5V628.4H339V624.8H339.5V628.2H340V622.6H340.5V624.4H341V625.8H341.5V621.8H342V620.4H342.5V625.2H343V624.1H343.5V624.3H344V623.8H344.5V627.1H345V627.3H345.5V626.7H346V627.4H346.5V624.3H347V623.9H347.5V625.9H348V624.3H348.5V626.8H349V625.3H349.5V628H350V624.4H350.5V623.8H351V622.2H351.5V625.5H352V622.4H352.5V623.7H353V623.1H353.5V621.7H354V626H354.5V619.7H355V626.7H355.5V622.8H356V625.2H356.5V622.3H357V625.1H357.5V624.8H358V627.2H358.5V627.7H359V626.6H359.5V627.2H360V623.6H360.5V625.1H361V627H361.5V622.7H362V621.7H362.5V622.6H363V624.5H363.5V625.9H364V626.3H364.5V626.7H365V623.9H365.5V627.3H366V626.1H366.5V621.7H367V626.8H367.5V624H368V625.6H368.5V626.3H369V624.2H369.5V623.8H370V625.9H370.5V621.6H371V627.1H371.5V625.8H372V627.5H372.5V626.3H373V624.7H373.5V627.6H374V623.1H374.5V624.1H375V625.9H375.5V625.3H376V623.3H376.5V623.3H377V627.3H377.5V623H378V623.8H378.5V625.6H379V626H379.5V627.9H380V627.1H380.5V627.1H381V624.3H381.5V624.5H382V626.4H382.5V624.5H383V624.2H383.5V623.5H384V624H384.5V626.7H385V624.4H385.5V627.6H386V626H386.5V625.6H387V621.9H387.5V623.1H388V625.1H388.5V622.6H389V626.3H389.5V624.4H390V624.7H390.5V626.2H391V626.2H391.5V626.2H392V625.9H392.5V624.5H393V624.5H393.5V625.4H394V626.7H394.5V625.7H395V624.3H395.5V625.5H396V625.6H396.5V624.5H397V627.3H397.5V627H398V622.1H398.5V626.2H399V626.7H399.5V628.4H400V628.5H400.5V624H401V626.7H401.5V626H402V625.1H402.5V624.5H403V623.3H403.5V625.3H404V624.1H404.5V625.7H405V624.6H405.5V623.1H406V622.2H406.5V624.1H407V629H407.5V626.7H408V625.6H408.5V625.5H409V626.6H409.5V626.1H410V626.9H410.5V626.8H411V625.4H411.5V627.8H412V622.9H412.5V626.4H413V623H413.5V625.5H414V626.6H414.5V625.2H415V626.9H415.5V626H416V625.1H416.5V624.3H417V627.6H417.5V625.7H418V626.9H418.5V626H419V627.5H419.5V623.9H420V622.5H420.5V627.1H421V626.1H421.5V624.2H422V622.5H422.5V622.5H423V626.6H423.5V625.1H424V627.5H424.5V626H425V624H425.5V628H426V624.8H426.5V625H427V625.5H427.5V623.1H428V626.2H428.5V627.2H429V627.7H429.5V625.8H430V624.3H430.5V625.9H431V627.2H431.5V624.4H432V623.8H432.5V626.6H433V626.3H433.5V628H434V623.7H434.5V625.4H435V625.8H435.5V625.5H436V623.9H436.5V626.4H437V625.9H437.5V626.7H438V625.7H438.5V625.7H439V626.9H439.5V626.8H440V625.5H440.5V626.1H441V623.4H441.5V625H442V626.6H442.5V627H443V628.3H443.5V627H444V627.6H444.5V625.6H445V625.2H445.5V628H446V626.2H446.5V628.6H447V626.4H447.5V625.4H448V625.6H448.5V626.1H449V625.9H449.5V624.8H450V625.6H450.5V626H451V619.6H451.5V634.3H451V632.9H450.5V633.6H450V634.3H449.5V633.9H449V633.7H448.5V635.3H448V634.1H447.5V633.5H447V633.8H446.5V634H446V634.2H445.5V633.9H445V635H444.5V633.2H444V635.3H443.5V634.7H443V634.9H442.5V634.5H442V633.5H441.5V635.2H441V634.2H440.5V634.8H440V633.7H439.5V635.2H439V633.5H438.5V633.5H438V633.9H437.5V634.7H437V634.9H436.5V633.6H436V633.9H435.5V633.6H435V634.9H434.5V634.3H434V635.3H433.5V634.4H433V635.1H432.5V634.6H432V633.3H431.5V634.2H431V634.1H430.5V634.4H430V634.6H429.5V634.6H429V634H428.5V633.8H428V634.9H427.5V634.3H427V635H426.5V634.7H426V634.8H425.5V633.7H425V633.2H424.5V633.6H424V634.2H423.5V634.7H423V635.1H422.5V634.4H422V634.1H421.5V635.1H421V633.7H420.5V634.8H420V634.1H419.5V634.3H419V634.9H418.5V633.1H418V634.3H417.5V635.2H417V633.5H416.5V634.5H416V634.5H415.5V634.6H415V634.7H414.5V632.2H414V634H413.5V633.7H413V634H412.5V633.7H412V634.3H411.5V634.9H411V634.5H410.5V634.8H410V634.8H409.5V634.1H409V635.3H408.5V634.1H408V634.4H407.5V634.6H407V632.6H406.5V634.8H406V633.8H405.5V633.8H405V635H404.5V633.7H404V634.8H403.5V632.7H403V635.1H402.5V635.2H402V635.3H401.5V634.4H401V634.4H400.5V633.9H400V632.7H399.5V634.5H399V634.5H398.5V634.1H398V634.5H397.5V635.2H397V633.9H396.5V634.4H396V635H395.5V633.9H395V634.1H394.5V634.6H394V633.4H393.5V633.2H393V634.8H392.5V633.9H392V633.7H391.5V635H391V633.9H390.5V635.2H390V635H389.5V635.1H389V633.5H388.5V633.9H388V634.3H387.5V632.8H387V635.2H386.5V634.6H386V635.3H385.5V634.5H385V634H384.5V634.7H384V633.8H383.5V633.4H383V634.1H382.5V634.3H382V633.8H381.5V635.2H381V634.9H380.5V633.9H380V634H379.5V634.4H379V633.7H378.5V633.8H378V635H377.5V634.3H377V634.5H376.5V634.8H376V635.2H375.5V635.1H375V635H374.5V633.9H374V634.8H373.5V634.8H373V634.3H372.5V634.7H372V634.8H371.5V634.6H371V634.6H370.5V634.1H370V634.8H369.5V634.8H369V634.7H368.5V635.1H368V635.1H367.5V634.4H367V634.6H366.5V634.2H366V634.2H365.5V634.5H365V634.9H364.5V634.3H364V633.9H363.5V632.6H363V632.7H362.5V634.3H362V634.6H361.5V634.8H361V634.5H360.5V632.8H360V634.6H359.5V634.7H359V634.7H358.5V634H358V634.4H357.5V634.4H357V635H356.5V634.8H356V634.2H355.5V633.5H355V634.5H354.5V635H354V633.5H353.5V635H353V634H352.5V634H352V634.5H351.5V634.4H351V632.3H350.5V634.3H350V633.9H349.5V634.7H349V634.2H348.5V634H348V634.9H347.5V634H347V632.5H346.5V634.5H346V634.2H345.5V635H345V634.4H344.5V634.6H344V633.9H343.5V634.7H343V635.3H342.5V634.6H342V634.2H341.5V634.5H341V634.3H340.5V634.9H340V634.9H339.5V632.7H339V634H338.5V634.4H338V634.7H337.5V634.9H337V635.3H336.5V634.2H336V634.8H335.5V635.1H335V635.2H334.5V634.9H334V634.4H333.5V633.8H333V635H332.5V633.7H332V634.6H331.5V635.2H331V633.7H330.5V633.7H330V633.6H329.5V632.6H329V633.8H328.5V633.6H328V634.2H327.5V635H327V633.5H326.5V634.9H326V634.7H325.5V634.2H325V635.1H324.5V633.6H324V633.7H323.5V633.8H323V634.8H322.5V632.9H322V634H321.5V633.2H321V634.3H320.5V634H320V634.7H319.5V633.9H319V633H318.5V633.5H318V634.4H317.5V633.9H317V634.2H316.5V633.9H316V634.2H315.5V633.4H315V633.3H314.5V634.2H314V633.8H313.5V634.6H313V635.1H312.5V634.7H312V633.9H311.5V634.6H311V633.9H310.5V633.3H310V634.2H309.5V635.2H309V634.2H308.5V634.9H308V635.3H307.5V634.8H307V634.5H306.5V634.5H306V634.2H305.5V634.8H305V634.2H304.5V633H304V634.6H303.5V634.1H303V633.9H302.5V635.1H302V635.1H301.5V634.6H301V634.9H300.5V633.9H300V634.7H299.5V634.5H299V634.1H298.5V635H298V634.7H297.5V633.1H297V633.9H296.5V633.2H296V633.9H295.5V634.3H295V634.9H294.5V634.6H294V633H293.5V634.8H293V634.7H292.5V634.8H292V633.9H291.5V635H291V635.3H290.5V635.3H290V634.2H289.5V634.1H289V634.2H288.5V634H288V633.3H287.5V634.3H287V635.3H286.5V634.6H286V633.5H285.5V634.8H285V634.4H284.5V635.3H284V633H283.5V632.8H283V634.6H282.5V634.3H282V633.5H281.5V633.7H281V634.7H280.5V635H280V633.9H279.5V634.6H279V633.3H278.5V635.2H278V634.1H277.5V635.1H277V634.2H276.5V634.8H276V635.2H275.5V635H275V634.1H274.5V634.1H274V634H273.5V634.1H273V634H272.5V634H272V633.8H271.5V635H271V633.9H270.5V634.2H270V635.1H269.5V633.5H269V634.2H268.5V634.9H268V634.6H267.5V634.4H267V634.4H266.5V634.4H266V634.4H265.5V633.2H265V634.3H264.5V635.2H264V634.2H263.5V634.5H263V634.2H262.5V634.4H262V634.9H261.5V634.3H261V635.1H260.5V635H260V634.8H259.5V634.8H259V634.6H258.5V635H258V634.7H257.5V634.2H257V634.2H256.5V634.9H256V634.1H255.5V633.9H255V634.7H254.5V634.7H254V634.8H253.5V634.6H253V635.1H252.5V634H252V634.4H251.5V634.3H251V635.3H250.5V635H250V634.5H249.5V633.1H249V634.1H248.5V634.6H248V634H247.5V632.8H247V635H246.5V633.1H246V633.8H245.5V633.8H245V634.8H244.5V632.8H244V633.3H243.5V635.2H243V635.3H242.5V634.1H242V634H241.5V634.8H241V635.2H240.5V632.8H240V634.5H239.5V633.7H239V634H238.5V632.1H238V634.9H237.5V634.7H237V633.9H236.5V634.9H236V634H235.5V634.9H235V634.4H234.5V635.1H234V634.7H233.5V634.7H233V634.1H232.5V633.7H232V635.2H231.5V634.2H231V634.5H230.5V633.5H230V633.3H229.5V634.3H229V633.8H228.5V634.9H228V634H227.5V634.9H227V633.8H226.5V634.7H226V634.2H225.5V634.7H225V634.4H224.5V634.7H224V634.4H223.5V634.4H223V633.5H222.5V634.1H222V634.7H221.5V634.7H221V635.3H220.5V633.9H220V634H219.5V634.9H219V634.3H218.5V633.9H218V634.3H217.5V634.8H217V633.4H216.5V634.5H216V633.2H215.5V634.8H215V633.9H214.5V633.8H214V634.6H213.5V634.4H213V635.1H212.5V633.1H212V634H211.5V634.6H211V634.9H210.5V634H210V633.9H209.5V634.1H209V634.3H208.5V633.8H208V633.3H207.5V634.2H207V633.9H206.5V634H206V634.3H205.5V634.4H205V635.1H204.5V634.3H204V634.5H203.5V634.4H203V634.4H202.5V634.5H202V634.3H201.5V634.6H201V634.3H200.5V634H200V633.5H199.5V634.7H199V633.3H198.5V633.5H198V633.5H197.5V635.1H197V634.4H196.5V634.2H196V633.6H195.5V634H195V634.8H194.5V634.8H194V633.6H193.5V634.6H193V634.6H192.5V633.5H192V634.1H191.5V632.1H191V634.6H190.5V633.6H190V632.6H189.5V634.3H189V634.3H188.5V632.9H188V632.9H187.5V633.9H187V633.5H186.5V634.5H186V633.8H185.5V634.2H185V633.5H184.5V634.1H184V634.3H183.5V635H183V635H182.5V635.3H182V633.7H181.5V635.3H181V633.9H180.5V634.7H180V633.6H179.5V634.2H179V633.2H178.5V634.5H178V633.3H177.5V633.7H177V634H176.5V634.2H176V632.2H175.5V633.3H175V633.8H174.5V635.3H174V633.8H173.5V635.3H173V634.7H172.5V635H172V634H171.5V633.1H171V632.9H170.5V633.9H170V634.3H169.5V634.3H169V631.9H168.5V634.1H168V634.7H167.5V634.1H167V633.7H166.5V634.6H166V634.2H165.5V634.6H165V634.1H164.5V633.3H164V633.7H163.5V635.1H163V634.4H162.5V634.1H162V634.9H161.5V634.2H161V633.5H160.5V633.8H160V634H159.5V634.2H159V633.3H158.5V633.5H158V634.6H157.5V633.8H157V633.8H156.5V634.7H156V633.8H155.5V634.1H155V632.1H154.5V634.3H154V633.5H153.5V634.4H153V634.9H152.5V633.8H152V634.5H151.5V634.1H151V634.4H150.5V633.7H150V633.6H149.5V635.3H149V634.1H148.5V632H148V634H147.5V634.4H147V633.5H146.5V633.2H146V634.2H145.5V634.5H145V634.9H144.5V633.8H144V634.5H143.5V633.4H143V633.3H142.5V632.7H142V635.1H141.5V634.2H141V633.9H140.5V633H140V632.5H139.5V634.8H139V632.4H138.5V634.4H138V635H137.5V633.8H137V634.8H136.5V634.5H136V632.3H135.5V632.7H135V632.6H134.5V634.2H134V632.3H133.5V633.7H133V635.1H132.5V633.8H132V633.4H131.5V634.7H131V633.2H130.5V632.3H130V631.9H129.5V634H129V631H128.5V631.3H128V634.8H127.5V634H127V634.5H126.5V633.1H126V634.1H125.5V632.9H125V633.6H124.5V632.7H124V634.6H123.5V634.1H123V634.1H122.5V632.9H122V632.8H121.5V634.2H121V633.1H120.5V633.5H120V634.1H119.5V632.6H119V630.7H118.5V633.3H118V633.3H117.5V635.2H117V633.9H116.5V634.3H116V634.3H115.5V633.6H115V634.3H114.5V632.8H114V634.9H113.5V633.9H113V633H112.5V633.1H112V634H111.5V634H111V633.5H110.5V631.9H110V632.6H109.5V634.2H109V633.8H108.5V633.2H108V633.9H107.5V634.9H107V634.9H106.5V632.6H106V634.1H105.5V635.1H105V632.4H104.5V635.2H104V628.6H103.5V630.2H103V632.3H102.5V634.4H102V630.4H101.5V634H101V632.6H100.5V635.2H100V633.4H99.5V633H99V634.2H98.5V633.4H98V631.7H97.5V632.8H97V632H96.5V633.3H96V631.9H95.5V633.8H95V630.7H94.5V633.7H94V631.8H93.5V633.2H93V632.1H92.5V632.8H92V632.6H91.5V631.7H91V631.2H90.5V632.1H90V631.3H89.5V630.9H89V635.2H88.5V633.3H88V633.4H87.5V633.5H87V632.3H86.5V631.6H86V633.8H85.5V631.2H85V629.3H84.5Z" fill="#a52a2a" stroke="#a52a2a" stroke-width="1" stroke-linejoin="miter" stroke-miterlimit="2"/>
<path d="M84.5 421H85V420.6H85.5V420H86V420.7H86.5V420H87V420.4H87.5V420.4H88V420.4H88.5V420.2H89V421.2H89.5V421.4H90V421.1H90.5V421.4H91V421H91.5V420.5H92V422.4H92.5V422.2H93V422.1H93.5V421.6H94V421.8H94.5V421.6H95V422.7H95.5V422.1H96V422.5H96.5V422.6H97V422H97.5V422.2H98V422.2H98.5V423.4H99V423.7H99.5V423H100V422.4H100.5V423.6H101V423.8H101.5V424.1H102V424.3H102.5V423.8H103V422.7H103.5V423.1H104V423.8H104.5V424.2H105V424.2H105.5V424.7H106V423.5H106.5V424.6H107V423.8H107.5V423.8H108V424.6H108.5V424.3H109V425H109.5V424.4H110V424.6H110.5V426.1H111V425.3H111.5V426.2H112V426.2H112.5V426.1H113V427.3H113.5V426.8H114V427.7H114.5V426.9H115V427.9H115.5V426.8H116V427.2H116.5V427.5H117V429H117.5V430.1H118V429.7H118.5V428.6H119V428.8H119.5V429.6H120V429.8H120.5V429.5H121V429.4H121.5V429.4H122V429.8H122.5V432.2H123V432.8H123.5V431.8H124V432.4H124.5V431.2H125V432.6H125.5V431.6H126V433.2H126.5V433.5H127V433.7H127.5V433H128V433H128.5V434.1H129V435.9H129.5V435.7H130V434.6H130.5V435.3H131V434.9H131.5V436.5H132V437.3H132.5V435.7H133V436.9H133.5V437.9H134V438.7H134.5V439.2H135V438.7H135.5V438.3H136V438.2H136.5V438H137V438.3H137.5V439.5H138V438.8H138.5V439.6H139V442H139.5V440.9H140V442.2H140.5V441.5H141V443H141.5V442H142V442.4H142.5V443.3H143V443.8H143.5V442.9H144V445H144.5V442.8H145V442.9H145.5V444.6H146V445H146.5V445H147V445.5H147.5V444.5H148V447.4H148.5V448.6H149V446.7H149.5V445.8H150V446.7H150.5V447.2H151V449.4H151.5V447.1H152V448.5H152.5V449.4H153V448.2H153.5V448.6H154V449.1H154.5V451.8H155V449.9H155.5V449.9H156V451.5H156.5V451.9H157V451.1H157.5V451.2H158V451.5H158.5V452.9H159V452.1H159.5V453.8H160V455.8H160.5V454.7H161V455.2H161.5V454.4H162V454.1H162.5V455H163V455H163.5V456.6H164V457.8H164.5V458.5H165V456.7H165.5V458H166V459H166.5V460.4H167V459.7H167.5V458.9H168V457.7H168.5V459.2H169V458.6H169.5V458.6H170V461.2H170.5V461.1H171V462.1H171.5V460.8H172V461.4H172.5V461.7H173V461.2H173.5V461.2H174V462.9H174.5V462.2H175V463.5H175.5V465.4H176V464.9H176.5V466.6H177V468.3H177.5V464.3H178V466.1H178.5V466.1H179V466.9H179.5V468.5H180V468.7H180.5V468.7H181V469.6H181.5V469.6H182V467.8H182.5V468H183V470.5H183.5V471H184V470.3H184.5V473H185V472.2H185.5V470.2H186V474.1H186.5V472.7H187V473.4H187.5V474.1H188V471.9H188.5V473H189V476.3H189.5V474.8H190V476.7H190.5V474.3H191V476.8H191.5V477.9H192V476.9H192.5V478H193V478H193.5V479.3H194V479.7H194.5V480.1H195V478.6H195.5V479.4H196V479.4H196.5V480.3H197V480.7H197.5V485.8H198V480.8H198.5V483.6H199V485.2H199.5V482.2H200V484.9H200.5V484H201V489.1H201.5V487.6H202V485.8H202.5V489.9H203V485.5H203.5V486H204V489.5H204.5V491.6H205V494.9H205.5V495.6H206V490.8H206.5V489.5H207V489.2H207.5V491.8H208V490.2H208.5V495.8H209V491.4H209.5V495H210V492.4H210.5V493.6H211V495.5H211.5V495.8H212V497.5H212.5V495.3H213V497.7H213.5V498H214V497.5H214.5V503H215V499.7H215.5V500H216V502H216.5V504.5H217V504.1H217.5V499.2H218V501.5H218.5V505H219V500.8H219.5V502H220V507.3H220.5V506.3H221V502.2H221.5V508.5H222V510.4H222.5V507.3H223V511.4H223.5V507.7H224V505.2H224.5V510.3H225V511.2H225.5V510.7H226V514.9H226.5V512H227V508.1H227.5V512.2H228V509.6H228.5V510.8H229V511.8H229.5V511.5H230V511.3H230.5V517H231V512.5H231.5V513.2H232V516.2H232.5V523.3H233V518.5H233.5V514.4H234V520.4H234.5V519.3H235V519.4H235.5V522.9H236V518.5H236.5V518.7H237V522.1H237.5V522.1H238V521.3H238.5V519.9H239V523.7H239.5V531.5H240V523.7H240.5V525.7H241V525.4H241.5V534.9H242V528.7H242.5V525.6H243V532.4H243.5V534.9H244V532.3H244.5V526.3H245V529.1H245.5V529.1H246V535.7H246.5V529.8H247V531.6H247.5V534.7H248V537.5H248.5V537.8H249V533H249.5V535.6H250V536.6H250.5V535H251V535H251.5V541.5H252V542.2H252.5V542.8H253V539.2H253.5V548.6H254V549.1H254.5V547H255V545.2H255.5V550.3H256V550.6H256.5V546.8H257V541.5H257.5V547.2H258V540.8H258.5V554.4H259V552.6H259.5V562.6H260V560.3H260.5V553.3H261V554H261.5V559.7H262V556H262.5V552.3H263V561H263.5V565.8H264V571.9H264.5V571.4H265V553.6H265.5V566.7H266V581.7H266.5V577.9H267V568.8H267.5V578.7H268V572.7H268.5V569.4H269V581.3H269.5V567.3H270V567.3H270.5V594H271V594H271.5V601.4H272V585H272.5V584.3H273V582H273.5V580.5H274V577.7H274.5V594.2H275V588H275.5V591.4H276V588.8H276.5V607.8H277V595.5H277.5V610.9H278V602.3H278.5V594.5H279V594.5H279.5V598.3H280V604.4H280.5V612.3H281V594.3H281.5V603.6H282V612.2H282.5V605.6H283V602.8H283.5V599.3H284V610H284.5V602.1H285V598.9H285.5V599.5H286V604.7H286.5V607.4H287V605.8H287.5V607.4H288V603.1H288.5V597.3H289V602.6H289.5V603.6H290V601H290.5V606.5H291V606.7H291.5V595.4H292V605.7H292.5V610.6H293V604.5H293.5V603.5H294V595.8H294.5V601H295V596.8H295.5V605H296V605H296.5V592.7H297V608.2H297.5V609.1H298V601.1H298.5V616.1H299V605.1H299.5V615.2H300V609.4H300.5V600.1H301V607.2H301.5V604.3H302V605.9H302.5V605.5H303V604.3H303.5V608H304V609.9H304.5V598.5H305V601.2H305.5V609.7H306V618.6H306.5V604.5H307V614H307.5V614.8H308V611.3H308.5V612.4H309V606.8H309.5V608.1H310V608.9H310.5V616.4H311V611.9H311.5V611.8H312V609.4H312.5V605H313V607.8H313.5V611.3H314V608.9H314.5V616.3H315V602.3H315.5V607.1H316V597.8H316.5V608H317V606.6H317.5V607.2H318V603.1H318.5V616.7H319V610.3H319.5V614.7H320V609.1H320.5V609.1H321V605.5H321.5V606.1H322V603.7H322.5V600.4H323V606.9H323.5V599.4H324V611.4H324.5V604.5H325V592.3H325.5V609.9H326V617.1H326.5V612.5H327V615.4H327.5V614H328V608.4H328.5V608.5H329V612.5H329.5V614.2H330V606.4H330.5V611H331V611.7H331.5V613.4H332V609.8H332.5V612.9H333V612.9H333.5V611.7H334V611.6H334.5V610.7H335V618.2H335.5V611.9H336V615H336.5V610.8H337V610.8H337.5V614.4H338V612.2H338.5V607.1H339V617.7H339.5V607.8H340V608H340.5V610.9H341V620H341.5V612H342V613.8H342.5V613.4H343V612.5H343.5V603.4H344V607.5H344.5V614.3H345V609.6H345.5V611.5H346V620.9H346.5V612.5H347V608.7H347.5V612.2H348V618.2H348.5V612.2H349V611.7H349.5V611.7H350V614.9H350.5V618.8H351V606.9H351.5V616.5H352V606.4H352.5V611.7H353V616.9H353.5V616.5H354V621.4H354.5V618.4H355V614.7H355.5V615.5H356V612.3H356.5V610.1H357V615.2H357.5V605.9H358V616.9H358.5V601.3H359V617.8H359.5V615.1H360V613.4H360.5V617.6H361V616.3H361.5V621.1H362V610.9H362.5V619.4H363V620.1H363.5V616.5H364V615.7H364.5V617.2H365V617.5H365.5V615.8H366V613.6H366.5V614.1H367V618.3H367.5V617.7H368V616.6H368.5V616.9H369V613H369.5V616.3H370V619.2H370.5V621.3H371V616.6H371.5V616.6H372V616.5H372.5V616.5H373V618.3H373.5V615.1H374V615.4H374.5V611.6H375V619.5H375.5V615.1H376V610.9H376.5V618.5H377V624.2H377.5V616.6H378V617.4H378.5V621.9H379V613.3H379.5V619.3H380V618.9H380.5V614.3H381V619.4H381.5V622H382V616.4H382.5V617.9H383V623.8H383.5V612.4H384V615.2H384.5V615.2H385V615.9H385.5V611.8H386V622H386.5V618.5H387V622.7H387.5V617.4H388V618H388.5V618.6H389V623.5H389.5V617.3H390V614.2H390.5V620.6H391V621.4H391.5V620.8H392V615.3H392.5V622.4H393V617.7H393.5V621.3H394V621.8H394.5V620.5H395V620.9H395.5V620.5H396V616.7H396.5V623.5H397V621.1H397.5V613.3H398V613.3H398.5V624.5H399V619.4H399.5V614.8H400V621.8H400.5V620.3H401V617.6H401.5V620.6H402V615H402.5V616.5H403V618.2H403.5V616.5H404V619H404.5V617.5H405V620.6H405.5V623.2H406V620.3H406.5V621.5H407V620.6H407.5V618.4H408V619.3H408.5V613.6H409V625.6H409.5V620.2H410V621.5H410.5V623H411V619.6H411.5V620.7H412V613.7H412.5V619.4H413V618.8H413.5V620.7H414V620.6H414.5V620.9H415V621.4H415.5V620.2H416V620.2H416.5V623.8H417V616.6H417.5V619.2H418V616.8H418.5V619.8H419V624.6H419.5V619.1H420V620.6H420.5V622.6H421V621.4H421.5V621.4H422V622.7H422.5V622.6H423V623.6H423.5V623.4H424V618.3H424.5V618.3H425V621.1H425.5V622.5H426V624.4H426.5V622.3H427V619.1H427.5V620.4H428V620.4H428.5V619.5H429V623.1H429.5V622.4H430V621H430.5V621.6H431V621.4H431.5V621.1H432V621.8H432.5V622.4H433V616.5H433.5V619.7H434V619.7H434.5V623.9H435V619.9H435.5V623.3H436V623.2H436.5V625.3H437V620.4H437.5V625.3H438V625H438.5V624.6H439V618.5H439.5V626H440V621.5H440.5V624.2H441V621.2H441.5V620.6H442V619.6H442.5V622.6H443V621.6H443.5V622.3H444V622.3H444.5V622.9H445V622.5H445.5V620.3H446V620.3H446.5V623.6H447V625.8H447.5V624H448V626.4H448.5V623.5H449V624.5H449.5V622.7H450V624.4H450.5V623.7H451V620.1H451.5V633.6H451V633.7H450.5V633.8H450V632.9H449.5V633.5H449V633.3H448.5V632.8H448V632.3H447.5V634.6H447V634.5H446.5V634.8H446V633.7H445.5V634.5H445V634.3H444.5V635.2H444V635.3H443.5V633.3H443V634.6H442.5V634.6H442V634.5H441.5V634.5H441V634.8H440.5V634.5H440V632.7H439.5V633.8H439V633.1H438.5V634H438V634.7H437.5V632.6H437V633.9H436.5V634.4H436V633.7H435.5V634.4H435V634H434.5V633.8H434V634.6H433.5V634.3H433V633.3H432.5V632.5H432V633.1H431.5V634.4H431V633.8H430.5V634.8H430V634.9H429.5V633.7H429V634.6H428.5V634.6H428V635.1H427.5V634.9H427V632.9H426.5V632.6H426V633.3H425.5V634.5H425V634.5H424.5V633.2H424V634H423.5V632.6H423V634.9H422.5V634.9H422V633.1H421.5V633.4H421V633.9H420.5V633.7H420V632.2H419.5V634.4H419V633.2H418.5V632.8H418V634.8H417.5V634.2H417V634.5H416.5V631.6H416V634.5H415.5V634.2H415V633.8H414.5V633.4H414V632.1H413.5V634.4H413V632.3H412.5V634.4H412V632.1H411.5V634.6H411V635.1H410.5V633.4H410V633.2H409.5V634.9H409V634.2H408.5V633.7H408V634.9H407.5V633.8H407V634.6H406.5V634.2H406V634.2H405.5V633.6H405V633.5H404.5V632.6H404V632.8H403.5V633.9H403V634.5H402.5V634.5H402V633.5H401.5V633.2H401V634.4H400.5V632.7H400V634.4H399.5V633.7H399V635.1H398.5V634.8H398V634.7H397.5V634.2H397V632.7H396.5V633.1H396V632.5H395.5V633.9H395V635.2H394.5V635H394V632.1H393.5V631.4H393V632.4H392.5V633.3H392V634.2H391.5V634.1H391V632.6H390.5V632.9H390V632.1H389.5V633.5H389V635.3H388.5V634.3H388V633.6H387.5V634.7H387V634.4H386.5V633.1H386V634.4H385.5V634.6H385V633.6H384.5V633.6H384V633.3H383.5V633.4H383V633.5H382.5V634.1H382V633.5H381.5V633.2H381V634.8H380.5V633.4H380V634.9H379.5V635.2H379V632.1H378.5V631.8H378V633H377.5V632.2H377V633.5H376.5V633.3H376V634.1H375.5V634.1H375V632.5H374.5V633.7H374V633.4H373.5V632.6H373V634.2H372.5V632.8H372V632.7H371.5V634.3H371V634.1H370.5V629.3H370V633.5H369.5V633.3H369V633.3H368.5V631.2H368V634.8H367.5V633.2H367V632.4H366.5V631.6H366V632.2H365.5V633.5H365V633.1H364.5V632.6H364V634H363.5V632.4H363V632.6H362.5V632.6H362V634.6H361.5V634.6H361V631H360.5V631.8H360V634.1H359.5V633.1H359V630.7H358.5V632.2H358V635H357.5V635H357V635H356.5V633H356V632.5H355.5V633.6H355V631.9H354.5V634.5H354V632.3H353.5V632.5H353V635H352.5V633.6H352V632.8H351.5V633.6H351V633.8H350.5V632.5H350V634.3H349.5V633H349V632H348.5V632.9H348V632.3H347.5V633.3H347V632.7H346.5V631.5H346V632.5H345.5V632.9H345V633.8H344.5V631.4H344V634.2H343.5V634H343V633.8H342.5V633.5H342V633H341.5V632.7H341V633.7H340.5V634.8H340V634.8H339.5V633.8H339V632.1H338.5V634.8H338V631.7H337.5V631H337V633.9H336.5V632H336V634.6H335.5V633.5H335V632.8H334.5V633H334V631.8H333.5V634.8H333V632.8H332.5V632.9H332V633.4H331.5V629.6H331V632.6H330.5V630H330V633.2H329.5V633.5H329V632.9H328.5V631.4H328V635.2H327.5V633.1H327V633.1H326.5V634.3H326V633.9H325.5V632.2H325V631.4H324.5V630.3H324V631.2H323.5V632.7H323V630.1H322.5V632.3H322V632.5H321.5V632.5H321V631.7H320.5V631.9H320V632.5H319.5V632.5H319V631.8H318.5V633.1H318V632.4H317.5V633H317V629.8H316.5V631.7H316V630.1H315.5V631.6H315V631.7H314.5V631.7H314V634.2H313.5V634.9H313V633.9H312.5V632H312V633.6H311.5V634.3H311V634.3H310.5V632.5H310V633.1H309.5V633.4H309V627.2H308.5V629H308V633.4H307.5V632.1H307V634.1H306.5V635.1H306V633.8H305.5V632.7H305V632.2H304.5V634.1H304V634.1H303.5V630.8H303V634.4H302.5V633.4H302V628.3H301.5V631.4H301V633.5H300.5V633.5H300V631.5H299.5V634.3H299V634.5H298.5V634.9H298V634.1H297.5V630.1H297V632.6H296.5V627.8H296V632.3H295.5V635H295V632.8H294.5V632.6H294V628.3H293.5V633.5H293V634.1H292.5V630.1H292V630H291.5V630.4H291V628.6H290.5V633.9H290V634.4H289.5V633.2H289V632H288.5V632.3H288V629.6H287.5V629.5H287V630.9H286.5V629H286V629.9H285.5V629.3H285V632.4H284.5V633.9H284V632.5H283.5V632.8H283V634.6H282.5V629.8H282V634H281.5V631.3H281V632H280.5V631H280V630.1H279.5V628.8H279V633.3H278.5V630.7H278V633.1H277.5V629.8H277V630.7H276.5V634.1H276V626.6H275.5V628.1H275V628.4H274.5V627.4H274V624.3H273.5V630.2H273V626H272.5V627.5H272V633.8H271.5V629.3H271V628.1H270.5V618.5H270V608.2H269.5V622.4H269V610.1H268.5V613.7H268V605.3H267.5V603.7H267V619.1H266.5V608.7H266V601.1H265.5V597.5H265V611.2H264.5V610.5H264V598.8H263.5V593.6H263V582.3H262.5V598.4H262V597.3H261.5V596.4H261V588.6H260.5V589.3H260V584.5H259.5V589.4H259V585.8H258.5V582.2H258V585.2H257.5V578.6H257V578.2H256.5V583.1H256V578H255.5V579.9H255V569.5H254.5V570.2H254V572.2H253.5V565.4H253V567.7H252.5V572.1H252V568.9H251.5V563.5H251V560.2H250.5V565.7H250V563H249.5V562.4H249V563.5H248.5V564.4H248V553.8H247.5V557.7H247V548.8H246.5V557.2H246V557.2H245.5V558.5H245V559.5H244.5V551.2H244V555.3H243.5V556.6H243V548.9H242.5V554H242V554H241.5V549.9H241V546.7H240.5V544H240V548.6H239.5V542H239V538H238.5V539.2H238V539.3H237.5V546.5H237V541.7H236.5V538.6H236V538.7H235.5V536.4H235V538.9H234.5V539H234V540.5H233.5V540.5H233V536.3H232.5V532H232V528.8H231.5V534.6H231V529.8H230.5V529.8H230V528.3H229.5V531.9H229V525.8H228.5V527.2H228V530.6H227.5V530.6H227V526.6H226.5V530H226V524.6H225.5V528.8H225V523.7H224.5V522.7H224V522.7H223.5V524.3H223V521.6H222.5V524.4H222V521.6H221.5V519.6H221V517.5H220.5V521.7H220V516.6H219.5V517H219V518.4H218.5V513.4H218V515.3H217.5V517.8H217V515.1H216.5V514.8H216V512.3H215.5V509.6H215V513.1H214.5V509H214V510.3H213.5V512.9H213V508H212.5V508.7H212V507.8H211.5V506.4H211V505.7H210.5V504.7H210V506.2H209.5V502.9H209V505.1H208.5V502.7H208V503H207.5V500.8H207V500.3H206.5V502.3H206V502.7H205.5V502.3H205V502H204.5V499.1H204V500.2H203.5V496.1H203V497.8H202.5V496.1H202V496.6H201.5V497.6H201V493.1H200.5V495H200V492.1H199.5V492.2H199V490.3H198.5V493.2H198V493.9H197.5V490.9H197V490H196.5V488.1H196V490.3H195.5V488.1H195V488.7H194.5V488.7H194V484.3H193.5V487.3H193V487.7H192.5V485.4H192V487.2H191.5V484.3H191V481.8H190.5V485.6H190V483.4H189.5V482.2H189V481H188.5V479.4H188V480.2H187.5V482.4H187V482.4H186.5V480.4H186V478.7H185.5V480.3H185V478.8H184.5V477.1H184V477.1H183.5V478.5H183V476.9H182.5V476.8H182V475.3H181.5V477H181V474.2H180.5V476.5H180V475.7H179.5V475.7H179V475.1H178.5V472.7H178V472.8H177.5V474H177V473.7H176.5V473H176V471.8H175.5V471H175V469.3H174.5V469.7H174V468.4H173.5V469H173V470.3H172.5V466.8H172V466.9H171.5V467.7H171V466H170.5V467.2H170V466.8H169.5V465.4H169V466.9H168.5V464.9H168V464.5H167.5V465.2H167V465.7H166.5V462.7H166V465.2H165.5V463.5H165V462.5H164.5V463.6H164V461.8H163.5V461.9H163V461.9H162.5V460.5H162V460.2H161.5V461.8H161V461.8H160.5V461.2H160V461.1H159.5V457.8H159V459H158.5V458.8H158V457H157.5V457.5H157V456.2H156.5V456.9H156V457.6H155.5V454.5H155V456.2H154.5V454.6H154V455.5H153.5V455.5H153V455.5H152.5V454.8H152V452.3H151.5V454.4H151V453H150.5V453.1H150V453.8H149.5V452.4H149V452.9H148.5V452.9H148V451H147.5V450.8H147V450.6H146.5V450.4H146V450.4H145.5V448.7H145V449.7H144.5V449.7H144V448.3H143.5V449H143V447.2H142.5V446.2H142V446.2H141.5V446.1H141V447.3H140.5V446H140V445.7H139.5V446H139V446.4H138.5V443.6H138V444.1H137.5V442.9H137V442.2H136.5V444H136V444.2H135.5V443.4H135V442.8H134.5V442.6H134V441.3H133.5V442.7H133V441.2H132.5V442.1H132V441.4H131.5V440.2H131V439.6H130.5V439.6H130V440.6H129.5V439.5H129V439.9H128.5V439H128V437.6H127.5V437.6H127V437.9H126.5V438.2H126V436.8H125.5V436.9H125V436.8H124.5V435.5H124V435.8H123.5V436.6H123V436.2H122.5V434.9H122V435.6H121.5V435.2H121V435.1H120.5V434.2H120V431.9H119.5V432.9H119V433H118.5V432.9H118V433.4H117.5V431.5H117V430.6H116.5V430.9H116V431.5H115.5V432.1H115V431H114.5V431.6H114V431.1H113.5V429.9H113V430.8H112.5V430.2H112V428.8H111.5V429.6H111V429.1H110.5V428.7H110V427.4H109.5V428.5H109V428.5H108.5V428.7H108V428.6H107.5V427.5H107V426.5H106.5V427.4H106V427.6H105.5V428H105V427.5H104.5V427.4H104V427.9H103.5V427.7H103V427.3H102.5V427.3H102V427.4H101.5V427.4H101V426.3H100.5V426.3H100V426.3H99.5V425.7H99V426.8H98.5V426.1H98V425.3H97.5V426.4H97V426.3H96.5V425.3H96V425.3H95.5V425.5H95V425.3H94.5V424.8H94V425.1H93.5V425.5H93V425.4H92.5V425.4H92V424.9H91.5V424.7H91V424.1H90.5V424H90V424H89.5V423.8H89V424.5H88.5V423.8H88V423.7H87.5V423.8H87V423H86.5V423.3H86V422.9H85.5V423.1H85V424.5H84.5Z" fill="#00ff00" stroke="#00ff00" stroke-width="1" stroke-linejoin="miter" stroke-miterlimit="2"/>
<text transform="translate(74.30 641.60) scale(0.972 1)" text-anchor="end">0</text>
<text transform="translate(74.30 617.90) scale(0.972 1)" text-anchor="end">0.1</text>
<text transform="translate(74.30 594.20) scale(0.972 1)" text-anchor="end">0.2</text>
<text transform="translate(74.30 570.50) scale(0.972 1)" text-anchor="end">0.3</text>
<text transform="translate(74.30 546.80) scale(0.972 1)" text-anchor="end">0.4</text>
<text transform="translate(74.30 523.10) scale(0.972 1)" text-anchor="end">0.5</text>
<text transform="translate(74.30 499.40) scale(0.972 1)" text-anchor="end">0.6</text>
<text transform="translate(74.30 475.70) scale(0.972 1)" text-anchor="end">0.7</text>
<text transform="translate(74.30 452.00) scale(0.972 1)" text-anchor="end">0.8</text>
<text transform="translate(74.30 428.30) scale(0.972 1)" text-anchor="end">0.9</text>
<text transform="translate(74.30 404.60) scale(0.972 1)" text-anchor="end">1</text>
<text transform="translate(86.90 658.70) scale(0.972 1)" text-anchor="middle">0</text>
<text transform="translate(160.30 658.70) scale(0.972 1)" text-anchor="middle">0.2</text>
<text transform="translate(233.70 658.70) scale(0.972 1)" text-anchor="middle">0.4</text>
<text transform="translate(307.10 658.70) scale(0.972 1)" text-anchor="middle">0.6</text>
<text transform="translate(380.50 658.70) scale(0.972 1)" text-anchor="middle">0.8</text>
<text transform="translate(453.90 658.70) scale(0.972 1)" text-anchor="middle">1</text>
<text transform="translate(268.50 378.50) scale(0.973 1)" text-anchor="middle" style="font-size:17.6px">N=2048, M=100, T=0.25</text>
<text transform="translate(187.30 683.80) scale(0.993 1)" style="font-size:17px">Adiabatically tuned</text>
<text x="338.4" y="683.40" style="font-family:'Liberation Serif',serif;font-size:17.6px">&#916;</text>
<text transform="translate(22 525.70) rotate(-90) scale(0.93 1)">r</text>
<text transform="translate(14.6 520.00) rotate(-90) scale(0.86 1)" style="font-size:15.6px">st</text>
<text transform="translate(375.80 417.40) scale(0.96 1)" text-anchor="end">K=-0.25</text>
<path d="M386.3 411.50H431" stroke="#ff0000" stroke-width="1" fill="none"/>
<text transform="translate(375.80 434.40) scale(0.96 1)" text-anchor="end">=0.25</text>
<path d="M386.3 428.50H431" stroke="#0000ff" stroke-width="1" fill="none"/>
<text transform="translate(375.80 451.40) scale(0.96 1)" text-anchor="end">=-0.5</text>
<path d="M386.3 445.50H431" stroke="#a52a2a" stroke-width="1" fill="none"/>
<text transform="translate(375.80 468.40) scale(0.96 1)" text-anchor="end">=0.5</text>
<path d="M386.3 462.50H431" stroke="#00ff00" stroke-width="1" fill="none"/>
<text x="1.6" y="370.00" style="font-family:'Liberation Serif',serif;font-size:24.1px">(b)</text>
</svg>
</body></html>
